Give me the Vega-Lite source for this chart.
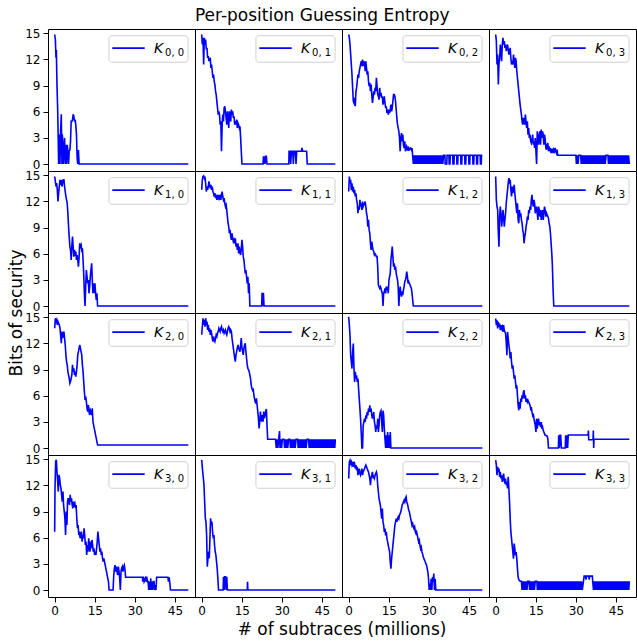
{
"$schema":"https://vega.github.io/schema/vega-lite/v6.json",
"padding":{"left":7,"top":7,"right":0,"bottom":0},
"bounds":"flush",
"title":{"text":"Per-position Guessing Entropy","fontSize":17,"fontWeight":"normal","color":"black","font":"DejaVu Sans","anchor":"middle","offset":2},
"data":{"values":[
{"r":0,"c":0,"x":0,"y":14.87},{"r":0,"c":0,"x":0.25,"y":14.3},{"r":0,"c":0,"x":0.49,"y":12.2},{"r":0,"c":0,"x":0.62,"y":13.1},{"r":0,"c":0,"x":0.86,"y":9.1},{"r":0,"c":0,"x":1.11,"y":6.4},{"r":0,"c":0,"x":1.23,"y":4.5},{"r":0,"c":0,"x":1.48,"y":0},{"r":0,"c":0,"x":1.73,"y":3.4},{"r":0,"c":0,"x":1.98,"y":0},{"r":0,"c":0,"x":2.22,"y":3.8},{"r":0,"c":0,"x":2.47,"y":5.7},{"r":0,"c":0,"x":2.72,"y":0},{"r":0,"c":0,"x":2.84,"y":3.4},{"r":0,"c":0,"x":3.09,"y":2.2},{"r":0,"c":0,"x":3.21,"y":0},{"r":0,"c":0,"x":3.46,"y":1.5},{"r":0,"c":0,"x":3.7,"y":3.0},{"r":0,"c":0,"x":3.95,"y":0},{"r":0,"c":0,"x":4.2,"y":2.2},{"r":0,"c":0,"x":4.44,"y":0},{"r":0,"c":0,"x":4.69,"y":2.2},{"r":0,"c":0,"x":4.94,"y":1.5},{"r":0,"c":0,"x":5.19,"y":0},{"r":0,"c":0,"x":5.43,"y":1.5},{"r":0,"c":0,"x":5.68,"y":1.6},{"r":0,"c":0,"x":5.93,"y":2.6},{"r":0,"c":0,"x":6.17,"y":4.9},{"r":0,"c":0,"x":6.42,"y":4.9},{"r":0,"c":0,"x":6.67,"y":5.1},{"r":0,"c":0,"x":6.91,"y":5.7},{"r":0,"c":0,"x":7.16,"y":5.5},{"r":0,"c":0,"x":7.41,"y":4.9},{"r":0,"c":0,"x":7.65,"y":5.1},{"r":0,"c":0,"x":7.9,"y":4.5},{"r":0,"c":0,"x":8.15,"y":3.4},{"r":0,"c":0,"x":8.4,"y":0.7},{"r":0,"c":0,"x":8.64,"y":0},{"r":0,"c":0,"x":8.89,"y":1.6},{"r":0,"c":0,"x":9.14,"y":0},{"r":0,"c":0,"x":50,"y":0},
{"r":0,"c":1,"x":0,"y":14.87},{"r":0,"c":1,"x":0.25,"y":13.72},{"r":0,"c":1,"x":0.49,"y":14.48},{"r":0,"c":1,"x":0.74,"y":11.42},{"r":0,"c":1,"x":0.99,"y":14.48},{"r":0,"c":1,"x":1.23,"y":13.72},{"r":0,"c":1,"x":1.48,"y":14.3},{"r":0,"c":1,"x":1.73,"y":13.14},{"r":0,"c":1,"x":1.98,"y":13.33},{"r":0,"c":1,"x":2.22,"y":12.18},{"r":0,"c":1,"x":2.47,"y":12.38},{"r":0,"c":1,"x":2.72,"y":11.8},{"r":0,"c":1,"x":2.96,"y":11.99},{"r":0,"c":1,"x":3.21,"y":12.18},{"r":0,"c":1,"x":3.46,"y":11.03},{"r":0,"c":1,"x":3.7,"y":11.42},{"r":0,"c":1,"x":3.95,"y":10.65},{"r":0,"c":1,"x":4.2,"y":9.89},{"r":0,"c":1,"x":4.44,"y":10.27},{"r":0,"c":1,"x":4.69,"y":9.5},{"r":0,"c":1,"x":4.94,"y":9.12},{"r":0,"c":1,"x":5.19,"y":8.35},{"r":0,"c":1,"x":5.43,"y":7.97},{"r":0,"c":1,"x":5.68,"y":7.2},{"r":0,"c":1,"x":5.93,"y":6.44},{"r":0,"c":1,"x":6.17,"y":5.67},{"r":0,"c":1,"x":6.42,"y":6.05},{"r":0,"c":1,"x":6.67,"y":5.67},{"r":0,"c":1,"x":6.91,"y":4.52},{"r":0,"c":1,"x":7.16,"y":4.9},{"r":0,"c":1,"x":7.41,"y":1.46},{"r":0,"c":1,"x":7.65,"y":4.52},{"r":0,"c":1,"x":7.9,"y":5.67},{"r":0,"c":1,"x":8.15,"y":4.9},{"r":0,"c":1,"x":8.4,"y":6.44},{"r":0,"c":1,"x":8.64,"y":6.63},{"r":0,"c":1,"x":8.89,"y":6.05},{"r":0,"c":1,"x":9.14,"y":5.29},{"r":0,"c":1,"x":9.38,"y":4.52},{"r":0,"c":1,"x":9.63,"y":6.05},{"r":0,"c":1,"x":9.88,"y":5.29},{"r":0,"c":1,"x":10.12,"y":4.14},{"r":0,"c":1,"x":10.37,"y":6.05},{"r":0,"c":1,"x":10.62,"y":5.67},{"r":0,"c":1,"x":10.86,"y":4.9},{"r":0,"c":1,"x":11.11,"y":6.25},{"r":0,"c":1,"x":11.36,"y":5.67},{"r":0,"c":1,"x":11.6,"y":6.05},{"r":0,"c":1,"x":11.85,"y":5.29},{"r":0,"c":1,"x":12.1,"y":5.48},{"r":0,"c":1,"x":12.35,"y":4.52},{"r":0,"c":1,"x":12.59,"y":4.9},{"r":0,"c":1,"x":12.84,"y":4.52},{"r":0,"c":1,"x":13.09,"y":5.1},{"r":0,"c":1,"x":13.33,"y":4.14},{"r":0,"c":1,"x":13.58,"y":4.71},{"r":0,"c":1,"x":13.83,"y":4.52},{"r":0,"c":1,"x":14.07,"y":4.14},{"r":0,"c":1,"x":14.32,"y":4.33},{"r":0,"c":1,"x":14.57,"y":3.03},{"r":0,"c":1,"x":14.81,"y":1.53},{"r":0,"c":1,"x":15.06,"y":0},{"r":0,"c":1,"x":22.96,"y":0},{"r":0,"c":1,"x":23.1,"y":0.88},{"r":0,"c":1,"x":23.2,"y":0},{"r":0,"c":1,"x":23.46,"y":0.88},{"r":0,"c":1,"x":23.7,"y":0},{"r":0,"c":1,"x":23.95,"y":0.88},{"r":0,"c":1,"x":24.2,"y":0.88},{"r":0,"c":1,"x":24.44,"y":0},{"r":0,"c":1,"x":32.6,"y":0},{"r":0,"c":1,"x":32.7,"y":1.46},{"r":0,"c":1,"x":33.1,"y":1.46},{"r":0,"c":1,"x":33.3,"y":0},{"r":0,"c":1,"x":33.58,"y":1.46},{"r":0,"c":1,"x":34.07,"y":1.46},{"r":0,"c":1,"x":34.3,"y":0},{"r":0,"c":1,"x":34.57,"y":1.46},{"r":0,"c":1,"x":35.06,"y":1.46},{"r":0,"c":1,"x":35.3,"y":0},{"r":0,"c":1,"x":35.56,"y":1.46},{"r":0,"c":1,"x":37.3,"y":1.46},{"r":0,"c":1,"x":37.5,"y":1.84},{"r":0,"c":1,"x":37.8,"y":1.46},{"r":0,"c":1,"x":39.26,"y":1.46},{"r":0,"c":1,"x":39.5,"y":0},{"r":0,"c":1,"x":50,"y":0},
{"r":0,"c":2,"x":0,"y":14.87},{"r":0,"c":2,"x":0.25,"y":14.48},{"r":0,"c":2,"x":0.49,"y":13.72},{"r":0,"c":2,"x":0.74,"y":12.57},{"r":0,"c":2,"x":0.99,"y":11.42},{"r":0,"c":2,"x":1.23,"y":10.27},{"r":0,"c":2,"x":1.48,"y":8.74},{"r":0,"c":2,"x":1.73,"y":7.2},{"r":0,"c":2,"x":1.98,"y":7.01},{"r":0,"c":2,"x":2.22,"y":7.59},{"r":0,"c":2,"x":2.47,"y":6.63},{"r":0,"c":2,"x":2.72,"y":8.35},{"r":0,"c":2,"x":2.96,"y":8.74},{"r":0,"c":2,"x":3.21,"y":9.5},{"r":0,"c":2,"x":3.46,"y":10.27},{"r":0,"c":2,"x":3.7,"y":9.89},{"r":0,"c":2,"x":3.95,"y":10.65},{"r":0,"c":2,"x":4.2,"y":11.03},{"r":0,"c":2,"x":4.44,"y":11.42},{"r":0,"c":2,"x":4.69,"y":11.8},{"r":0,"c":2,"x":4.94,"y":11.23},{"r":0,"c":2,"x":5.19,"y":11.99},{"r":0,"c":2,"x":5.43,"y":11.23},{"r":0,"c":2,"x":5.68,"y":11.8},{"r":0,"c":2,"x":5.93,"y":11.6},{"r":0,"c":2,"x":6.17,"y":10.65},{"r":0,"c":2,"x":6.42,"y":11.8},{"r":0,"c":2,"x":6.67,"y":11.03},{"r":0,"c":2,"x":6.91,"y":10.27},{"r":0,"c":2,"x":7.16,"y":10.65},{"r":0,"c":2,"x":7.41,"y":9.5},{"r":0,"c":2,"x":7.65,"y":8.93},{"r":0,"c":2,"x":7.9,"y":9.31},{"r":0,"c":2,"x":8.15,"y":8.35},{"r":0,"c":2,"x":8.4,"y":9.12},{"r":0,"c":2,"x":8.64,"y":7.97},{"r":0,"c":2,"x":8.89,"y":7.01},{"r":0,"c":2,"x":9.14,"y":7.59},{"r":0,"c":2,"x":9.38,"y":8.35},{"r":0,"c":2,"x":9.63,"y":7.97},{"r":0,"c":2,"x":9.88,"y":8.74},{"r":0,"c":2,"x":10.12,"y":8.35},{"r":0,"c":2,"x":10.37,"y":9.89},{"r":0,"c":2,"x":10.62,"y":8.93},{"r":0,"c":2,"x":10.86,"y":7.97},{"r":0,"c":2,"x":11.11,"y":7.78},{"r":0,"c":2,"x":11.36,"y":7.39},{"r":0,"c":2,"x":11.6,"y":8.74},{"r":0,"c":2,"x":11.85,"y":7.78},{"r":0,"c":2,"x":12.1,"y":8.16},{"r":0,"c":2,"x":12.35,"y":7.59},{"r":0,"c":2,"x":12.59,"y":7.78},{"r":0,"c":2,"x":12.84,"y":6.82},{"r":0,"c":2,"x":13.09,"y":7.2},{"r":0,"c":2,"x":13.33,"y":7.78},{"r":0,"c":2,"x":13.58,"y":7.01},{"r":0,"c":2,"x":13.83,"y":6.44},{"r":0,"c":2,"x":14.07,"y":6.63},{"r":0,"c":2,"x":14.32,"y":5.86},{"r":0,"c":2,"x":14.57,"y":6.25},{"r":0,"c":2,"x":14.81,"y":5.67},{"r":0,"c":2,"x":15.06,"y":6.25},{"r":0,"c":2,"x":15.31,"y":5.86},{"r":0,"c":2,"x":15.56,"y":6.25},{"r":0,"c":2,"x":15.8,"y":6.82},{"r":0,"c":2,"x":16.05,"y":6.05},{"r":0,"c":2,"x":16.3,"y":6.44},{"r":0,"c":2,"x":16.54,"y":7.2},{"r":0,"c":2,"x":16.79,"y":7.97},{"r":0,"c":2,"x":17.04,"y":7.97},{"r":0,"c":2,"x":17.28,"y":7.78},{"r":0,"c":2,"x":17.53,"y":7.2},{"r":0,"c":2,"x":17.78,"y":6.25},{"r":0,"c":2,"x":18.02,"y":5.29},{"r":0,"c":2,"x":18.27,"y":4.52},{"r":0,"c":2,"x":18.52,"y":4.14},{"r":0,"c":2,"x":18.77,"y":3.75},{"r":0,"c":2,"x":19.01,"y":2.99},{"r":0,"c":2,"x":19.26,"y":1.46},{"r":0,"c":2,"x":19.51,"y":2.99},{"r":0,"c":2,"x":19.75,"y":3.56},{"r":0,"c":2,"x":20.0,"y":2.6},{"r":0,"c":2,"x":20.25,"y":3.37},{"r":0,"c":2,"x":20.49,"y":2.22},{"r":0,"c":2,"x":20.74,"y":1.84},{"r":0,"c":2,"x":20.99,"y":2.6},{"r":0,"c":2,"x":21.23,"y":1.46},{"r":0,"c":2,"x":21.48,"y":1.65},{"r":0,"c":2,"x":21.73,"y":2.03},{"r":0,"c":2,"x":21.98,"y":1.84},{"r":0,"c":2,"x":22.22,"y":1.53},{"r":0,"c":2,"x":22.47,"y":1.84},{"r":0,"c":2,"x":22.72,"y":1.65},{"r":0,"c":2,"x":22.96,"y":1.76},{"r":0,"c":2,"x":23.21,"y":1.84},{"r":0,"c":2,"x":23.46,"y":1.65},{"r":0,"c":2,"x":23.7,"y":1.84},{"r":0,"c":2,"x":23.95,"y":0.92},{"r":0,"c":2,"x":24.2,"y":0},{"r":0,"c":2,"x":24.45,"y":1},{"r":0,"c":2,"x":24.7,"y":0},{"r":0,"c":2,"x":24.95,"y":1},{"r":0,"c":2,"x":25.2,"y":0},{"r":0,"c":2,"x":25.45,"y":1},{"r":0,"c":2,"x":25.7,"y":0},{"r":0,"c":2,"x":25.95,"y":1},{"r":0,"c":2,"x":26.2,"y":0},{"r":0,"c":2,"x":26.45,"y":1},{"r":0,"c":2,"x":26.7,"y":0},{"r":0,"c":2,"x":26.95,"y":1},{"r":0,"c":2,"x":27.2,"y":0},{"r":0,"c":2,"x":27.45,"y":1},{"r":0,"c":2,"x":27.7,"y":0},{"r":0,"c":2,"x":27.95,"y":1},{"r":0,"c":2,"x":28.2,"y":0},{"r":0,"c":2,"x":28.45,"y":1},{"r":0,"c":2,"x":28.7,"y":0},{"r":0,"c":2,"x":28.95,"y":1},{"r":0,"c":2,"x":29.2,"y":0},{"r":0,"c":2,"x":29.45,"y":1},{"r":0,"c":2,"x":29.7,"y":0},{"r":0,"c":2,"x":29.95,"y":1},{"r":0,"c":2,"x":30.2,"y":0},{"r":0,"c":2,"x":30.45,"y":1},{"r":0,"c":2,"x":30.7,"y":0},{"r":0,"c":2,"x":30.95,"y":1},{"r":0,"c":2,"x":31.2,"y":0},{"r":0,"c":2,"x":31.45,"y":1},{"r":0,"c":2,"x":31.7,"y":0},{"r":0,"c":2,"x":31.95,"y":1},{"r":0,"c":2,"x":32.2,"y":0},{"r":0,"c":2,"x":32.45,"y":1},{"r":0,"c":2,"x":32.7,"y":0},{"r":0,"c":2,"x":32.95,"y":1},{"r":0,"c":2,"x":33.2,"y":0},{"r":0,"c":2,"x":33.45,"y":1},{"r":0,"c":2,"x":33.7,"y":0},{"r":0,"c":2,"x":33.95,"y":1},{"r":0,"c":2,"x":34.2,"y":0},{"r":0,"c":2,"x":34.45,"y":1},{"r":0,"c":2,"x":34.7,"y":0},{"r":0,"c":2,"x":34.95,"y":1},{"r":0,"c":2,"x":35.2,"y":0},{"r":0,"c":2,"x":35.5,"y":1},{"r":0,"c":2,"x":36.0,"y":1},{"r":0,"c":2,"x":36.1,"y":0},{"r":0,"c":2,"x":36.7,"y":0},{"r":0,"c":2,"x":36.8,"y":1},{"r":0,"c":2,"x":37.5,"y":1},{"r":0,"c":2,"x":37.6,"y":0},{"r":0,"c":2,"x":37.9,"y":0},{"r":0,"c":2,"x":38.0,"y":1},{"r":0,"c":2,"x":38.9,"y":1},{"r":0,"c":2,"x":39.0,"y":0},{"r":0,"c":2,"x":39.4,"y":0},{"r":0,"c":2,"x":39.5,"y":1},{"r":0,"c":2,"x":40.4,"y":1},{"r":0,"c":2,"x":40.5,"y":0},{"r":0,"c":2,"x":40.8,"y":0},{"r":0,"c":2,"x":40.9,"y":1},{"r":0,"c":2,"x":41.9,"y":1},{"r":0,"c":2,"x":42.0,"y":0},{"r":0,"c":2,"x":42.3,"y":0},{"r":0,"c":2,"x":42.4,"y":1},{"r":0,"c":2,"x":43.4,"y":1},{"r":0,"c":2,"x":43.5,"y":0},{"r":0,"c":2,"x":43.8,"y":0},{"r":0,"c":2,"x":43.9,"y":1},{"r":0,"c":2,"x":44.9,"y":1},{"r":0,"c":2,"x":45.0,"y":0},{"r":0,"c":2,"x":45.3,"y":0},{"r":0,"c":2,"x":45.4,"y":1},{"r":0,"c":2,"x":46.4,"y":1},{"r":0,"c":2,"x":46.5,"y":0},{"r":0,"c":2,"x":46.8,"y":0},{"r":0,"c":2,"x":46.9,"y":1},{"r":0,"c":2,"x":47.8,"y":1},{"r":0,"c":2,"x":47.9,"y":0},{"r":0,"c":2,"x":48.2,"y":0},{"r":0,"c":2,"x":48.3,"y":1},{"r":0,"c":2,"x":49.2,"y":1},{"r":0,"c":2,"x":49.3,"y":0},{"r":0,"c":2,"x":49.6,"y":0},{"r":0,"c":2,"x":49.7,"y":1},{"r":0,"c":2,"x":50,"y":1},
{"r":0,"c":3,"x":0,"y":14.87},{"r":0,"c":3,"x":0.25,"y":14.1},{"r":0,"c":3,"x":0.49,"y":11.42},{"r":0,"c":3,"x":0.74,"y":12.57},{"r":0,"c":3,"x":0.99,"y":9.12},{"r":0,"c":3,"x":1.23,"y":11.42},{"r":0,"c":3,"x":1.48,"y":12.18},{"r":0,"c":3,"x":1.73,"y":13.72},{"r":0,"c":3,"x":1.98,"y":12.95},{"r":0,"c":3,"x":2.22,"y":11.8},{"r":0,"c":3,"x":2.47,"y":13.72},{"r":0,"c":3,"x":2.72,"y":14.48},{"r":0,"c":3,"x":2.96,"y":13.72},{"r":0,"c":3,"x":3.21,"y":14.1},{"r":0,"c":3,"x":3.46,"y":13.33},{"r":0,"c":3,"x":3.7,"y":13.72},{"r":0,"c":3,"x":3.95,"y":12.95},{"r":0,"c":3,"x":4.2,"y":13.33},{"r":0,"c":3,"x":4.44,"y":13.72},{"r":0,"c":3,"x":4.69,"y":13.14},{"r":0,"c":3,"x":4.94,"y":12.57},{"r":0,"c":3,"x":5.19,"y":12.95},{"r":0,"c":3,"x":5.43,"y":13.33},{"r":0,"c":3,"x":5.68,"y":12.18},{"r":0,"c":3,"x":5.93,"y":11.42},{"r":0,"c":3,"x":6.17,"y":11.8},{"r":0,"c":3,"x":6.42,"y":11.42},{"r":0,"c":3,"x":6.67,"y":12.57},{"r":0,"c":3,"x":6.91,"y":11.8},{"r":0,"c":3,"x":7.16,"y":11.03},{"r":0,"c":3,"x":7.41,"y":12.18},{"r":0,"c":3,"x":7.65,"y":11.8},{"r":0,"c":3,"x":7.9,"y":10.65},{"r":0,"c":3,"x":8.15,"y":9.89},{"r":0,"c":3,"x":8.4,"y":9.12},{"r":0,"c":3,"x":8.64,"y":8.35},{"r":0,"c":3,"x":8.89,"y":7.59},{"r":0,"c":3,"x":9.14,"y":6.82},{"r":0,"c":3,"x":9.38,"y":6.25},{"r":0,"c":3,"x":9.63,"y":5.67},{"r":0,"c":3,"x":9.88,"y":4.9},{"r":0,"c":3,"x":10.12,"y":4.52},{"r":0,"c":3,"x":10.37,"y":5.29},{"r":0,"c":3,"x":10.62,"y":4.9},{"r":0,"c":3,"x":10.86,"y":4.52},{"r":0,"c":3,"x":11.11,"y":5.67},{"r":0,"c":3,"x":11.36,"y":4.9},{"r":0,"c":3,"x":11.6,"y":4.14},{"r":0,"c":3,"x":11.85,"y":4.9},{"r":0,"c":3,"x":12.1,"y":3.37},{"r":0,"c":3,"x":12.35,"y":4.14},{"r":0,"c":3,"x":12.59,"y":2.99},{"r":0,"c":3,"x":12.84,"y":3.37},{"r":0,"c":3,"x":13.09,"y":2.6},{"r":0,"c":3,"x":13.33,"y":2.41},{"r":0,"c":3,"x":13.58,"y":2.8},{"r":0,"c":3,"x":13.83,"y":3.37},{"r":0,"c":3,"x":14.07,"y":2.22},{"r":0,"c":3,"x":14.32,"y":2.6},{"r":0,"c":3,"x":14.57,"y":1.84},{"r":0,"c":3,"x":14.81,"y":2.99},{"r":0,"c":3,"x":15.06,"y":1.46},{"r":0,"c":3,"x":15.31,"y":0},{"r":0,"c":3,"x":15.56,"y":3.75},{"r":0,"c":3,"x":15.8,"y":3.37},{"r":0,"c":3,"x":16.05,"y":2.22},{"r":0,"c":3,"x":16.3,"y":2.99},{"r":0,"c":3,"x":16.54,"y":3.75},{"r":0,"c":3,"x":16.79,"y":2.22},{"r":0,"c":3,"x":17.04,"y":3.95},{"r":0,"c":3,"x":17.28,"y":2.99},{"r":0,"c":3,"x":17.53,"y":3.75},{"r":0,"c":3,"x":17.78,"y":3.37},{"r":0,"c":3,"x":18.02,"y":2.22},{"r":0,"c":3,"x":18.27,"y":3.37},{"r":0,"c":3,"x":18.52,"y":2.8},{"r":0,"c":3,"x":18.77,"y":1.84},{"r":0,"c":3,"x":19.01,"y":1.65},{"r":0,"c":3,"x":19.26,"y":2.22},{"r":0,"c":3,"x":19.51,"y":2.41},{"r":0,"c":3,"x":19.75,"y":1.46},{"r":0,"c":3,"x":20.0,"y":2.03},{"r":0,"c":3,"x":20.25,"y":1.46},{"r":0,"c":3,"x":20.49,"y":1.84},{"r":0,"c":3,"x":20.74,"y":1.26},{"r":0,"c":3,"x":20.99,"y":1.53},{"r":0,"c":3,"x":21.23,"y":1.76},{"r":0,"c":3,"x":21.48,"y":1.26},{"r":0,"c":3,"x":21.73,"y":1.65},{"r":0,"c":3,"x":21.98,"y":1.46},{"r":0,"c":3,"x":22.22,"y":1.84},{"r":0,"c":3,"x":22.47,"y":1.46},{"r":0,"c":3,"x":22.72,"y":1.26},{"r":0,"c":3,"x":22.96,"y":1.65},{"r":0,"c":3,"x":23.21,"y":1},{"r":0,"c":3,"x":30.0,"y":1},{"r":0,"c":3,"x":30.2,"y":0},{"r":0,"c":3,"x":30.5,"y":1},{"r":0,"c":3,"x":30.8,"y":0},{"r":0,"c":3,"x":31.1,"y":1},{"r":0,"c":3,"x":31.8,"y":1},{"r":0,"c":3,"x":32.0,"y":0},{"r":0,"c":3,"x":32.3,"y":1},{"r":0,"c":3,"x":32.6,"y":0},{"r":0,"c":3,"x":32.9,"y":1},{"r":0,"c":3,"x":33.2,"y":0},{"r":0,"c":3,"x":33.5,"y":1},{"r":0,"c":3,"x":33.8,"y":0},{"r":0,"c":3,"x":34.1,"y":1},{"r":0,"c":3,"x":34.4,"y":0},{"r":0,"c":3,"x":34.7,"y":1},{"r":0,"c":3,"x":35.0,"y":0},{"r":0,"c":3,"x":35.3,"y":1},{"r":0,"c":3,"x":35.6,"y":0},{"r":0,"c":3,"x":35.9,"y":1},{"r":0,"c":3,"x":36.2,"y":0},{"r":0,"c":3,"x":36.5,"y":1},{"r":0,"c":3,"x":36.8,"y":0},{"r":0,"c":3,"x":37.1,"y":1},{"r":0,"c":3,"x":37.4,"y":0},{"r":0,"c":3,"x":37.7,"y":1},{"r":0,"c":3,"x":38.0,"y":0},{"r":0,"c":3,"x":38.3,"y":1},{"r":0,"c":3,"x":38.6,"y":0},{"r":0,"c":3,"x":38.9,"y":1},{"r":0,"c":3,"x":39.2,"y":0},{"r":0,"c":3,"x":39.5,"y":1},{"r":0,"c":3,"x":39.8,"y":0},{"r":0,"c":3,"x":40.1,"y":1},{"r":0,"c":3,"x":40.4,"y":0},{"r":0,"c":3,"x":40.7,"y":1},{"r":0,"c":3,"x":41.0,"y":0},{"r":0,"c":3,"x":41.3,"y":1},{"r":0,"c":3,"x":42.0,"y":1},{"r":0,"c":3,"x":42.2,"y":0},{"r":0,"c":3,"x":42.5,"y":1},{"r":0,"c":3,"x":42.8,"y":0},{"r":0,"c":3,"x":43.1,"y":1},{"r":0,"c":3,"x":43.4,"y":0},{"r":0,"c":3,"x":43.7,"y":1},{"r":0,"c":3,"x":44.0,"y":0},{"r":0,"c":3,"x":44.3,"y":1},{"r":0,"c":3,"x":44.6,"y":0},{"r":0,"c":3,"x":44.9,"y":1},{"r":0,"c":3,"x":45.2,"y":0},{"r":0,"c":3,"x":45.5,"y":1},{"r":0,"c":3,"x":45.8,"y":0},{"r":0,"c":3,"x":46.1,"y":1},{"r":0,"c":3,"x":46.4,"y":0},{"r":0,"c":3,"x":46.7,"y":1},{"r":0,"c":3,"x":47.0,"y":0},{"r":0,"c":3,"x":47.3,"y":1},{"r":0,"c":3,"x":47.6,"y":0},{"r":0,"c":3,"x":47.9,"y":1},{"r":0,"c":3,"x":48.2,"y":0},{"r":0,"c":3,"x":48.5,"y":1},{"r":0,"c":3,"x":48.8,"y":0},{"r":0,"c":3,"x":49.1,"y":1},{"r":0,"c":3,"x":49.4,"y":0},{"r":0,"c":3,"x":49.7,"y":1},{"r":0,"c":3,"x":50,"y":0},
{"r":1,"c":0,"x":0,"y":14.87},{"r":1,"c":0,"x":0.25,"y":14.3},{"r":1,"c":0,"x":0.49,"y":13.72},{"r":1,"c":0,"x":0.74,"y":14.1},{"r":1,"c":0,"x":0.99,"y":13.33},{"r":1,"c":0,"x":1.23,"y":12.0},{"r":1,"c":0,"x":1.48,"y":12.95},{"r":1,"c":0,"x":1.73,"y":13.72},{"r":1,"c":0,"x":1.98,"y":14.48},{"r":1,"c":0,"x":2.22,"y":13.91},{"r":1,"c":0,"x":2.47,"y":14.48},{"r":1,"c":0,"x":2.72,"y":13.72},{"r":1,"c":0,"x":2.96,"y":14.1},{"r":1,"c":0,"x":3.21,"y":14.48},{"r":1,"c":0,"x":3.46,"y":14.48},{"r":1,"c":0,"x":3.7,"y":13.72},{"r":1,"c":0,"x":3.95,"y":13.14},{"r":1,"c":0,"x":4.2,"y":12.57},{"r":1,"c":0,"x":4.44,"y":12.18},{"r":1,"c":0,"x":4.69,"y":11.8},{"r":1,"c":0,"x":4.94,"y":10.65},{"r":1,"c":0,"x":5.19,"y":9.12},{"r":1,"c":0,"x":5.43,"y":7.97},{"r":1,"c":0,"x":5.68,"y":6.82},{"r":1,"c":0,"x":5.93,"y":6.44},{"r":1,"c":0,"x":6.17,"y":5.29},{"r":1,"c":0,"x":6.42,"y":6.82},{"r":1,"c":0,"x":6.67,"y":7.97},{"r":1,"c":0,"x":6.91,"y":6.82},{"r":1,"c":0,"x":7.16,"y":5.67},{"r":1,"c":0,"x":7.41,"y":6.44},{"r":1,"c":0,"x":7.65,"y":6.05},{"r":1,"c":0,"x":7.9,"y":6.25},{"r":1,"c":0,"x":8.15,"y":5.29},{"r":1,"c":0,"x":8.4,"y":5.86},{"r":1,"c":0,"x":8.64,"y":5.29},{"r":1,"c":0,"x":8.89,"y":4.52},{"r":1,"c":0,"x":9.14,"y":5.67},{"r":1,"c":0,"x":9.38,"y":7.2},{"r":1,"c":0,"x":9.63,"y":6.82},{"r":1,"c":0,"x":9.88,"y":7.01},{"r":1,"c":0,"x":10.12,"y":6.44},{"r":1,"c":0,"x":10.37,"y":6.63},{"r":1,"c":0,"x":10.62,"y":5.29},{"r":1,"c":0,"x":10.86,"y":3.75},{"r":1,"c":0,"x":11.11,"y":1.46},{"r":1,"c":0,"x":11.36,"y":0},{"r":1,"c":0,"x":11.6,"y":2.22},{"r":1,"c":0,"x":11.85,"y":4.14},{"r":1,"c":0,"x":12.1,"y":3.37},{"r":1,"c":0,"x":12.35,"y":2.6},{"r":1,"c":0,"x":12.59,"y":2.99},{"r":1,"c":0,"x":12.84,"y":1.46},{"r":1,"c":0,"x":13.09,"y":2.22},{"r":1,"c":0,"x":13.33,"y":3.37},{"r":1,"c":0,"x":13.58,"y":4.14},{"r":1,"c":0,"x":13.83,"y":4.9},{"r":1,"c":0,"x":14.07,"y":2.99},{"r":1,"c":0,"x":14.32,"y":1.46},{"r":1,"c":0,"x":14.57,"y":2.6},{"r":1,"c":0,"x":14.81,"y":1.46},{"r":1,"c":0,"x":15.06,"y":2.6},{"r":1,"c":0,"x":15.31,"y":1.46},{"r":1,"c":0,"x":15.56,"y":0.69},{"r":1,"c":0,"x":15.8,"y":1.46},{"r":1,"c":0,"x":16.05,"y":0},{"r":1,"c":0,"x":50,"y":0},
{"r":1,"c":1,"x":0,"y":13.33},{"r":1,"c":1,"x":0.25,"y":14.5},{"r":1,"c":1,"x":0.49,"y":14.87},{"r":1,"c":1,"x":0.74,"y":14.94},{"r":1,"c":1,"x":0.99,"y":14.67},{"r":1,"c":1,"x":1.23,"y":14.87},{"r":1,"c":1,"x":1.48,"y":14.1},{"r":1,"c":1,"x":1.73,"y":13.14},{"r":1,"c":1,"x":1.98,"y":13.72},{"r":1,"c":1,"x":2.22,"y":13.33},{"r":1,"c":1,"x":2.47,"y":13.72},{"r":1,"c":1,"x":2.72,"y":14.3},{"r":1,"c":1,"x":2.96,"y":13.91},{"r":1,"c":1,"x":3.21,"y":13.52},{"r":1,"c":1,"x":3.46,"y":13.91},{"r":1,"c":1,"x":3.7,"y":13.33},{"r":1,"c":1,"x":3.95,"y":13.72},{"r":1,"c":1,"x":4.2,"y":13.14},{"r":1,"c":1,"x":4.44,"y":12.95},{"r":1,"c":1,"x":4.69,"y":12.57},{"r":1,"c":1,"x":4.94,"y":12.95},{"r":1,"c":1,"x":5.19,"y":12.38},{"r":1,"c":1,"x":5.43,"y":12.76},{"r":1,"c":1,"x":5.68,"y":12.18},{"r":1,"c":1,"x":5.93,"y":12.57},{"r":1,"c":1,"x":6.17,"y":12.38},{"r":1,"c":1,"x":6.42,"y":12.76},{"r":1,"c":1,"x":6.67,"y":12.38},{"r":1,"c":1,"x":6.91,"y":12.57},{"r":1,"c":1,"x":7.16,"y":12.18},{"r":1,"c":1,"x":7.41,"y":12.76},{"r":1,"c":1,"x":7.65,"y":13.14},{"r":1,"c":1,"x":7.9,"y":12.57},{"r":1,"c":1,"x":8.15,"y":12.18},{"r":1,"c":1,"x":8.4,"y":12.38},{"r":1,"c":1,"x":8.64,"y":11.8},{"r":1,"c":1,"x":8.89,"y":11.42},{"r":1,"c":1,"x":9.14,"y":11.61},{"r":1,"c":1,"x":9.38,"y":11.03},{"r":1,"c":1,"x":9.63,"y":10.27},{"r":1,"c":1,"x":9.88,"y":9.5},{"r":1,"c":1,"x":10.12,"y":9.12},{"r":1,"c":1,"x":10.37,"y":8.35},{"r":1,"c":1,"x":10.62,"y":8.74},{"r":1,"c":1,"x":10.86,"y":7.97},{"r":1,"c":1,"x":11.11,"y":7.59},{"r":1,"c":1,"x":11.36,"y":8.35},{"r":1,"c":1,"x":11.6,"y":7.78},{"r":1,"c":1,"x":11.85,"y":7.39},{"r":1,"c":1,"x":12.1,"y":7.59},{"r":1,"c":1,"x":12.35,"y":7.2},{"r":1,"c":1,"x":12.59,"y":7.78},{"r":1,"c":1,"x":12.84,"y":6.82},{"r":1,"c":1,"x":13.09,"y":7.2},{"r":1,"c":1,"x":13.33,"y":6.44},{"r":1,"c":1,"x":13.58,"y":7.2},{"r":1,"c":1,"x":13.83,"y":6.05},{"r":1,"c":1,"x":14.07,"y":6.82},{"r":1,"c":1,"x":14.32,"y":6.25},{"r":1,"c":1,"x":14.57,"y":5.86},{"r":1,"c":1,"x":14.81,"y":6.44},{"r":1,"c":1,"x":15.06,"y":7.59},{"r":1,"c":1,"x":15.31,"y":6.82},{"r":1,"c":1,"x":15.56,"y":5.67},{"r":1,"c":1,"x":15.8,"y":5.29},{"r":1,"c":1,"x":16.05,"y":4.52},{"r":1,"c":1,"x":16.3,"y":3.75},{"r":1,"c":1,"x":16.54,"y":4.14},{"r":1,"c":1,"x":16.79,"y":3.37},{"r":1,"c":1,"x":17.04,"y":2.6},{"r":1,"c":1,"x":17.28,"y":3.37},{"r":1,"c":1,"x":17.53,"y":1.46},{"r":1,"c":1,"x":17.78,"y":2.6},{"r":1,"c":1,"x":18.02,"y":0},{"r":1,"c":1,"x":22.47,"y":0},{"r":1,"c":1,"x":22.59,"y":1.53},{"r":1,"c":1,"x":22.84,"y":0},{"r":1,"c":1,"x":23.09,"y":1.53},{"r":1,"c":1,"x":23.33,"y":0},{"r":1,"c":1,"x":50,"y":0},
{"r":1,"c":2,"x":0,"y":13.14},{"r":1,"c":2,"x":0.25,"y":14.87},{"r":1,"c":2,"x":0.49,"y":14.3},{"r":1,"c":2,"x":0.74,"y":14.48},{"r":1,"c":2,"x":0.99,"y":13.33},{"r":1,"c":2,"x":1.23,"y":14.1},{"r":1,"c":2,"x":1.48,"y":13.14},{"r":1,"c":2,"x":1.73,"y":13.72},{"r":1,"c":2,"x":1.98,"y":12.95},{"r":1,"c":2,"x":2.22,"y":13.33},{"r":1,"c":2,"x":2.47,"y":12.57},{"r":1,"c":2,"x":2.72,"y":12.95},{"r":1,"c":2,"x":2.96,"y":12.18},{"r":1,"c":2,"x":3.21,"y":11.8},{"r":1,"c":2,"x":3.46,"y":10.65},{"r":1,"c":2,"x":3.7,"y":11.42},{"r":1,"c":2,"x":3.95,"y":11.03},{"r":1,"c":2,"x":4.2,"y":12.18},{"r":1,"c":2,"x":4.44,"y":11.42},{"r":1,"c":2,"x":4.69,"y":11.8},{"r":1,"c":2,"x":4.94,"y":11.03},{"r":1,"c":2,"x":5.19,"y":11.99},{"r":1,"c":2,"x":5.43,"y":11.42},{"r":1,"c":2,"x":5.68,"y":11.61},{"r":1,"c":2,"x":5.93,"y":11.8},{"r":1,"c":2,"x":6.17,"y":11.99},{"r":1,"c":2,"x":6.42,"y":11.42},{"r":1,"c":2,"x":6.67,"y":10.65},{"r":1,"c":2,"x":6.91,"y":10.27},{"r":1,"c":2,"x":7.16,"y":9.12},{"r":1,"c":2,"x":7.41,"y":9.89},{"r":1,"c":2,"x":7.65,"y":8.74},{"r":1,"c":2,"x":7.9,"y":8.35},{"r":1,"c":2,"x":8.15,"y":7.2},{"r":1,"c":2,"x":8.4,"y":6.44},{"r":1,"c":2,"x":8.64,"y":7.39},{"r":1,"c":2,"x":8.89,"y":6.82},{"r":1,"c":2,"x":9.14,"y":6.44},{"r":1,"c":2,"x":9.38,"y":6.25},{"r":1,"c":2,"x":9.63,"y":5.86},{"r":1,"c":2,"x":9.88,"y":5.98},{"r":1,"c":2,"x":10.12,"y":5.86},{"r":1,"c":2,"x":10.37,"y":5.67},{"r":1,"c":2,"x":10.62,"y":5.67},{"r":1,"c":2,"x":10.86,"y":4.52},{"r":1,"c":2,"x":11.11,"y":2.41},{"r":1,"c":2,"x":11.36,"y":2.22},{"r":1,"c":2,"x":11.6,"y":2.03},{"r":1,"c":2,"x":11.85,"y":2.22},{"r":1,"c":2,"x":12.1,"y":2.03},{"r":1,"c":2,"x":12.35,"y":1.65},{"r":1,"c":2,"x":12.59,"y":1.46},{"r":1,"c":2,"x":12.84,"y":0},{"r":1,"c":2,"x":13.09,"y":1.46},{"r":1,"c":2,"x":13.33,"y":1.65},{"r":1,"c":2,"x":13.58,"y":2.03},{"r":1,"c":2,"x":13.83,"y":1.46},{"r":1,"c":2,"x":14.07,"y":2.22},{"r":1,"c":2,"x":14.32,"y":2.03},{"r":1,"c":2,"x":14.57,"y":2.22},{"r":1,"c":2,"x":14.81,"y":1.46},{"r":1,"c":2,"x":15.06,"y":2.99},{"r":1,"c":2,"x":15.31,"y":3.37},{"r":1,"c":2,"x":15.56,"y":3.75},{"r":1,"c":2,"x":15.8,"y":5.29},{"r":1,"c":2,"x":16.05,"y":6.05},{"r":1,"c":2,"x":16.3,"y":6.82},{"r":1,"c":2,"x":16.54,"y":5.67},{"r":1,"c":2,"x":16.79,"y":4.52},{"r":1,"c":2,"x":17.04,"y":4.9},{"r":1,"c":2,"x":17.28,"y":4.14},{"r":1,"c":2,"x":17.53,"y":4.52},{"r":1,"c":2,"x":17.78,"y":3.75},{"r":1,"c":2,"x":18.02,"y":3.37},{"r":1,"c":2,"x":18.27,"y":2.99},{"r":1,"c":2,"x":18.52,"y":2.22},{"r":1,"c":2,"x":18.77,"y":0},{"r":1,"c":2,"x":19.01,"y":1.46},{"r":1,"c":2,"x":19.26,"y":2.22},{"r":1,"c":2,"x":19.51,"y":1.46},{"r":1,"c":2,"x":19.75,"y":1.07},{"r":1,"c":2,"x":20.0,"y":1.46},{"r":1,"c":2,"x":20.25,"y":1.26},{"r":1,"c":2,"x":20.49,"y":1.84},{"r":1,"c":2,"x":20.74,"y":2.22},{"r":1,"c":2,"x":20.99,"y":2.8},{"r":1,"c":2,"x":21.23,"y":2.99},{"r":1,"c":2,"x":21.48,"y":3.37},{"r":1,"c":2,"x":21.73,"y":3.95},{"r":1,"c":2,"x":21.98,"y":3.37},{"r":1,"c":2,"x":22.22,"y":2.6},{"r":1,"c":2,"x":22.47,"y":2.8},{"r":1,"c":2,"x":22.72,"y":2.6},{"r":1,"c":2,"x":22.96,"y":2.41},{"r":1,"c":2,"x":23.21,"y":2.22},{"r":1,"c":2,"x":23.46,"y":2.03},{"r":1,"c":2,"x":23.7,"y":1.46},{"r":1,"c":2,"x":23.95,"y":0.69},{"r":1,"c":2,"x":24.2,"y":0},{"r":1,"c":2,"x":50,"y":0},
{"r":1,"c":3,"x":0,"y":14.87},{"r":1,"c":3,"x":0.25,"y":12.18},{"r":1,"c":3,"x":0.49,"y":11.42},{"r":1,"c":3,"x":0.74,"y":11.03},{"r":1,"c":3,"x":0.99,"y":8.35},{"r":1,"c":3,"x":1.23,"y":6.82},{"r":1,"c":3,"x":1.48,"y":10.27},{"r":1,"c":3,"x":1.73,"y":11.42},{"r":1,"c":3,"x":1.98,"y":10.65},{"r":1,"c":3,"x":2.22,"y":9.12},{"r":1,"c":3,"x":2.47,"y":9.89},{"r":1,"c":3,"x":2.72,"y":11.03},{"r":1,"c":3,"x":2.96,"y":10.27},{"r":1,"c":3,"x":3.21,"y":9.12},{"r":1,"c":3,"x":3.46,"y":9.89},{"r":1,"c":3,"x":3.7,"y":10.65},{"r":1,"c":3,"x":3.95,"y":11.8},{"r":1,"c":3,"x":4.2,"y":12.57},{"r":1,"c":3,"x":4.44,"y":13.33},{"r":1,"c":3,"x":4.69,"y":14.1},{"r":1,"c":3,"x":4.94,"y":14.67},{"r":1,"c":3,"x":5.19,"y":14.3},{"r":1,"c":3,"x":5.43,"y":14.48},{"r":1,"c":3,"x":5.68,"y":13.33},{"r":1,"c":3,"x":5.93,"y":12.57},{"r":1,"c":3,"x":6.17,"y":13.72},{"r":1,"c":3,"x":6.42,"y":12.95},{"r":1,"c":3,"x":6.67,"y":13.33},{"r":1,"c":3,"x":6.91,"y":13.91},{"r":1,"c":3,"x":7.16,"y":12.95},{"r":1,"c":3,"x":7.41,"y":12.18},{"r":1,"c":3,"x":7.65,"y":11.42},{"r":1,"c":3,"x":7.9,"y":10.65},{"r":1,"c":3,"x":8.15,"y":11.8},{"r":1,"c":3,"x":8.4,"y":9.89},{"r":1,"c":3,"x":8.64,"y":9.5},{"r":1,"c":3,"x":8.89,"y":11.03},{"r":1,"c":3,"x":9.14,"y":10.27},{"r":1,"c":3,"x":9.38,"y":10.65},{"r":1,"c":3,"x":9.63,"y":9.89},{"r":1,"c":3,"x":9.88,"y":9.5},{"r":1,"c":3,"x":10.12,"y":8.74},{"r":1,"c":3,"x":10.37,"y":8.35},{"r":1,"c":3,"x":10.62,"y":7.2},{"r":1,"c":3,"x":10.86,"y":7.97},{"r":1,"c":3,"x":11.11,"y":8.35},{"r":1,"c":3,"x":11.36,"y":9.12},{"r":1,"c":3,"x":11.6,"y":9.5},{"r":1,"c":3,"x":11.85,"y":10.27},{"r":1,"c":3,"x":12.1,"y":9.89},{"r":1,"c":3,"x":12.35,"y":11.03},{"r":1,"c":3,"x":12.59,"y":10.65},{"r":1,"c":3,"x":12.84,"y":11.42},{"r":1,"c":3,"x":13.09,"y":11.03},{"r":1,"c":3,"x":13.33,"y":12.18},{"r":1,"c":3,"x":13.58,"y":12.76},{"r":1,"c":3,"x":13.83,"y":11.8},{"r":1,"c":3,"x":14.07,"y":11.42},{"r":1,"c":3,"x":14.32,"y":12.18},{"r":1,"c":3,"x":14.57,"y":11.8},{"r":1,"c":3,"x":14.81,"y":10.65},{"r":1,"c":3,"x":15.06,"y":11.03},{"r":1,"c":3,"x":15.31,"y":11.42},{"r":1,"c":3,"x":15.56,"y":10.65},{"r":1,"c":3,"x":15.8,"y":9.89},{"r":1,"c":3,"x":16.05,"y":11.42},{"r":1,"c":3,"x":16.3,"y":11.03},{"r":1,"c":3,"x":16.54,"y":10.27},{"r":1,"c":3,"x":16.79,"y":11.03},{"r":1,"c":3,"x":17.04,"y":9.89},{"r":1,"c":3,"x":17.28,"y":10.65},{"r":1,"c":3,"x":17.53,"y":11.03},{"r":1,"c":3,"x":17.78,"y":9.89},{"r":1,"c":3,"x":18.02,"y":10.65},{"r":1,"c":3,"x":18.27,"y":11.42},{"r":1,"c":3,"x":18.52,"y":11.03},{"r":1,"c":3,"x":18.77,"y":10.27},{"r":1,"c":3,"x":19.01,"y":10.65},{"r":1,"c":3,"x":19.26,"y":10.46},{"r":1,"c":3,"x":19.51,"y":10.27},{"r":1,"c":3,"x":19.75,"y":10.08},{"r":1,"c":3,"x":20.0,"y":9.5},{"r":1,"c":3,"x":20.25,"y":9.12},{"r":1,"c":3,"x":20.49,"y":8.35},{"r":1,"c":3,"x":20.74,"y":7.2},{"r":1,"c":3,"x":20.99,"y":6.05},{"r":1,"c":3,"x":21.23,"y":4.52},{"r":1,"c":3,"x":21.48,"y":1.84},{"r":1,"c":3,"x":21.73,"y":0},{"r":1,"c":3,"x":50,"y":0},
{"r":2,"c":0,"x":0,"y":13.75},{"r":2,"c":0,"x":0.25,"y":14.9},{"r":2,"c":0,"x":0.49,"y":14.52},{"r":2,"c":0,"x":0.74,"y":14.71},{"r":2,"c":0,"x":0.99,"y":14.14},{"r":2,"c":0,"x":1.23,"y":14.52},{"r":2,"c":0,"x":1.48,"y":14.33},{"r":2,"c":0,"x":1.73,"y":14.14},{"r":2,"c":0,"x":1.98,"y":13.75},{"r":2,"c":0,"x":2.22,"y":12.99},{"r":2,"c":0,"x":2.47,"y":12.03},{"r":2,"c":0,"x":2.72,"y":13.37},{"r":2,"c":0,"x":2.96,"y":12.61},{"r":2,"c":0,"x":3.21,"y":12.99},{"r":2,"c":0,"x":3.46,"y":13.37},{"r":2,"c":0,"x":3.7,"y":12.61},{"r":2,"c":0,"x":3.95,"y":11.84},{"r":2,"c":0,"x":4.2,"y":10.69},{"r":2,"c":0,"x":4.44,"y":9.92},{"r":2,"c":0,"x":4.69,"y":9.54},{"r":2,"c":0,"x":4.94,"y":8.77},{"r":2,"c":0,"x":5.19,"y":8.39},{"r":2,"c":0,"x":5.43,"y":8.01},{"r":2,"c":0,"x":5.68,"y":7.43},{"r":2,"c":0,"x":5.93,"y":7.62},{"r":2,"c":0,"x":6.17,"y":8.01},{"r":2,"c":0,"x":6.42,"y":8.39},{"r":2,"c":0,"x":6.67,"y":9.54},{"r":2,"c":0,"x":6.91,"y":8.77},{"r":2,"c":0,"x":7.16,"y":9.16},{"r":2,"c":0,"x":7.41,"y":8.39},{"r":2,"c":0,"x":7.65,"y":8.77},{"r":2,"c":0,"x":7.9,"y":8.2},{"r":2,"c":0,"x":8.15,"y":8.77},{"r":2,"c":0,"x":8.4,"y":9.54},{"r":2,"c":0,"x":8.64,"y":10.69},{"r":2,"c":0,"x":8.89,"y":11.07},{"r":2,"c":0,"x":9.14,"y":11.46},{"r":2,"c":0,"x":9.38,"y":11.84},{"r":2,"c":0,"x":9.63,"y":11.46},{"r":2,"c":0,"x":9.88,"y":11.07},{"r":2,"c":0,"x":10.12,"y":10.69},{"r":2,"c":0,"x":10.37,"y":9.54},{"r":2,"c":0,"x":10.62,"y":8.77},{"r":2,"c":0,"x":10.86,"y":7.62},{"r":2,"c":0,"x":11.11,"y":6.48},{"r":2,"c":0,"x":11.36,"y":5.52},{"r":2,"c":0,"x":11.6,"y":5.9},{"r":2,"c":0,"x":11.85,"y":5.33},{"r":2,"c":0,"x":12.1,"y":4.56},{"r":2,"c":0,"x":12.35,"y":4.18},{"r":2,"c":0,"x":12.59,"y":4.94},{"r":2,"c":0,"x":12.84,"y":4.18},{"r":2,"c":0,"x":13.09,"y":3.79},{"r":2,"c":0,"x":13.33,"y":4.37},{"r":2,"c":0,"x":13.58,"y":4.18},{"r":2,"c":0,"x":13.83,"y":3.79},{"r":2,"c":0,"x":14.07,"y":4.56},{"r":2,"c":0,"x":14.32,"y":3.03},{"r":2,"c":0,"x":14.57,"y":2.64},{"r":2,"c":0,"x":14.81,"y":2.26},{"r":2,"c":0,"x":15.06,"y":1.88},{"r":2,"c":0,"x":15.31,"y":1.49},{"r":2,"c":0,"x":15.56,"y":1.11},{"r":2,"c":0,"x":15.8,"y":0.73},{"r":2,"c":0,"x":16.05,"y":0.35},{"r":2,"c":0,"x":50,"y":0.35},
{"r":2,"c":1,"x":0,"y":13.0},{"r":2,"c":1,"x":0.49,"y":14.9},{"r":2,"c":1,"x":0.74,"y":14.14},{"r":2,"c":1,"x":0.99,"y":14.71},{"r":2,"c":1,"x":1.23,"y":13.94},{"r":2,"c":1,"x":1.48,"y":14.9},{"r":2,"c":1,"x":1.73,"y":14.33},{"r":2,"c":1,"x":1.98,"y":14.52},{"r":2,"c":1,"x":2.22,"y":13.56},{"r":2,"c":1,"x":2.47,"y":14.14},{"r":2,"c":1,"x":2.72,"y":13.37},{"r":2,"c":1,"x":2.96,"y":13.75},{"r":2,"c":1,"x":3.21,"y":12.99},{"r":2,"c":1,"x":3.46,"y":13.56},{"r":2,"c":1,"x":3.7,"y":13.18},{"r":2,"c":1,"x":3.95,"y":12.61},{"r":2,"c":1,"x":4.2,"y":12.22},{"r":2,"c":1,"x":4.44,"y":12.8},{"r":2,"c":1,"x":4.69,"y":12.41},{"r":2,"c":1,"x":4.94,"y":12.22},{"r":2,"c":1,"x":5.19,"y":12.61},{"r":2,"c":1,"x":5.43,"y":12.99},{"r":2,"c":1,"x":5.68,"y":12.8},{"r":2,"c":1,"x":5.93,"y":13.18},{"r":2,"c":1,"x":6.17,"y":13.37},{"r":2,"c":1,"x":6.42,"y":13.75},{"r":2,"c":1,"x":6.67,"y":13.56},{"r":2,"c":1,"x":6.91,"y":13.37},{"r":2,"c":1,"x":7.16,"y":13.75},{"r":2,"c":1,"x":7.41,"y":13.94},{"r":2,"c":1,"x":7.65,"y":13.56},{"r":2,"c":1,"x":7.9,"y":13.37},{"r":2,"c":1,"x":8.15,"y":13.56},{"r":2,"c":1,"x":8.4,"y":13.18},{"r":2,"c":1,"x":8.64,"y":13.37},{"r":2,"c":1,"x":8.89,"y":13.56},{"r":2,"c":1,"x":9.14,"y":13.18},{"r":2,"c":1,"x":9.38,"y":12.99},{"r":2,"c":1,"x":9.63,"y":13.37},{"r":2,"c":1,"x":9.88,"y":13.75},{"r":2,"c":1,"x":10.12,"y":13.94},{"r":2,"c":1,"x":10.37,"y":13.75},{"r":2,"c":1,"x":10.62,"y":13.37},{"r":2,"c":1,"x":10.86,"y":13.56},{"r":2,"c":1,"x":11.11,"y":13.37},{"r":2,"c":1,"x":11.36,"y":12.61},{"r":2,"c":1,"x":11.6,"y":12.03},{"r":2,"c":1,"x":11.85,"y":11.46},{"r":2,"c":1,"x":12.1,"y":10.88},{"r":2,"c":1,"x":12.35,"y":10.31},{"r":2,"c":1,"x":12.59,"y":9.92},{"r":2,"c":1,"x":12.84,"y":10.69},{"r":2,"c":1,"x":13.09,"y":11.07},{"r":2,"c":1,"x":13.33,"y":11.46},{"r":2,"c":1,"x":13.58,"y":11.84},{"r":2,"c":1,"x":13.83,"y":11.46},{"r":2,"c":1,"x":14.07,"y":11.26},{"r":2,"c":1,"x":14.32,"y":11.07},{"r":2,"c":1,"x":14.57,"y":11.84},{"r":2,"c":1,"x":14.81,"y":12.61},{"r":2,"c":1,"x":15.06,"y":11.46},{"r":2,"c":1,"x":15.31,"y":11.07},{"r":2,"c":1,"x":15.56,"y":10.69},{"r":2,"c":1,"x":15.8,"y":11.46},{"r":2,"c":1,"x":16.05,"y":11.84},{"r":2,"c":1,"x":16.3,"y":12.03},{"r":2,"c":1,"x":16.54,"y":11.07},{"r":2,"c":1,"x":16.79,"y":10.31},{"r":2,"c":1,"x":17.04,"y":9.54},{"r":2,"c":1,"x":17.28,"y":9.16},{"r":2,"c":1,"x":17.53,"y":8.97},{"r":2,"c":1,"x":17.78,"y":8.77},{"r":2,"c":1,"x":18.02,"y":8.39},{"r":2,"c":1,"x":18.27,"y":8.01},{"r":2,"c":1,"x":18.52,"y":7.24},{"r":2,"c":1,"x":18.77,"y":6.86},{"r":2,"c":1,"x":19.01,"y":6.67},{"r":2,"c":1,"x":19.26,"y":6.86},{"r":2,"c":1,"x":19.51,"y":6.09},{"r":2,"c":1,"x":19.75,"y":5.71},{"r":2,"c":1,"x":20.0,"y":5.33},{"r":2,"c":1,"x":20.25,"y":5.13},{"r":2,"c":1,"x":20.49,"y":5.71},{"r":2,"c":1,"x":20.74,"y":4.94},{"r":2,"c":1,"x":20.99,"y":4.18},{"r":2,"c":1,"x":21.23,"y":3.41},{"r":2,"c":1,"x":21.48,"y":2.26},{"r":2,"c":1,"x":21.73,"y":3.03},{"r":2,"c":1,"x":21.98,"y":4.18},{"r":2,"c":1,"x":22.22,"y":3.41},{"r":2,"c":1,"x":22.47,"y":3.03},{"r":2,"c":1,"x":22.72,"y":3.79},{"r":2,"c":1,"x":22.96,"y":3.03},{"r":2,"c":1,"x":23.21,"y":4.18},{"r":2,"c":1,"x":23.46,"y":3.41},{"r":2,"c":1,"x":23.7,"y":3.79},{"r":2,"c":1,"x":23.95,"y":4.18},{"r":2,"c":1,"x":24.2,"y":4.48},{"r":2,"c":1,"x":24.44,"y":2.64},{"r":2,"c":1,"x":24.69,"y":1.0},{"r":2,"c":1,"x":27.65,"y":1.0},{"r":2,"c":1,"x":27.9,"y":0},{"r":2,"c":1,"x":28.2,"y":1},{"r":2,"c":1,"x":28.5,"y":0},{"r":2,"c":1,"x":28.8,"y":1},{"r":2,"c":1,"x":29.14,"y":1.95},{"r":2,"c":1,"x":29.3,"y":0},{"r":2,"c":1,"x":29.6,"y":1},{"r":2,"c":1,"x":29.9,"y":0},{"r":2,"c":1,"x":30.2,"y":1},{"r":2,"c":1,"x":30.8,"y":1},{"r":2,"c":1,"x":31.0,"y":0},{"r":2,"c":1,"x":31.3,"y":1},{"r":2,"c":1,"x":31.6,"y":0},{"r":2,"c":1,"x":31.9,"y":1},{"r":2,"c":1,"x":32.2,"y":0},{"r":2,"c":1,"x":32.5,"y":1},{"r":2,"c":1,"x":33.0,"y":1},{"r":2,"c":1,"x":33.2,"y":0},{"r":2,"c":1,"x":33.5,"y":1},{"r":2,"c":1,"x":33.8,"y":0},{"r":2,"c":1,"x":34.1,"y":1},{"r":2,"c":1,"x":34.4,"y":0},{"r":2,"c":1,"x":34.7,"y":1},{"r":2,"c":1,"x":35.0,"y":0},{"r":2,"c":1,"x":35.3,"y":1},{"r":2,"c":1,"x":35.9,"y":1},{"r":2,"c":1,"x":36.1,"y":0},{"r":2,"c":1,"x":36.4,"y":1},{"r":2,"c":1,"x":36.7,"y":0},{"r":2,"c":1,"x":37.0,"y":1},{"r":2,"c":1,"x":37.3,"y":0},{"r":2,"c":1,"x":37.6,"y":1},{"r":2,"c":1,"x":37.9,"y":0},{"r":2,"c":1,"x":38.2,"y":1},{"r":2,"c":1,"x":38.5,"y":0},{"r":2,"c":1,"x":38.8,"y":1},{"r":2,"c":1,"x":39.1,"y":0},{"r":2,"c":1,"x":39.4,"y":1},{"r":2,"c":1,"x":40.0,"y":1},{"r":2,"c":1,"x":40.2,"y":0},{"r":2,"c":1,"x":40.5,"y":1},{"r":2,"c":1,"x":40.8,"y":0},{"r":2,"c":1,"x":41.1,"y":1},{"r":2,"c":1,"x":41.4,"y":0},{"r":2,"c":1,"x":41.7,"y":1},{"r":2,"c":1,"x":42.0,"y":0},{"r":2,"c":1,"x":42.3,"y":1},{"r":2,"c":1,"x":42.6,"y":0},{"r":2,"c":1,"x":42.9,"y":1},{"r":2,"c":1,"x":43.2,"y":0},{"r":2,"c":1,"x":43.5,"y":1},{"r":2,"c":1,"x":43.8,"y":0},{"r":2,"c":1,"x":44.1,"y":1},{"r":2,"c":1,"x":44.4,"y":0},{"r":2,"c":1,"x":44.7,"y":1},{"r":2,"c":1,"x":45.0,"y":0},{"r":2,"c":1,"x":45.3,"y":1},{"r":2,"c":1,"x":45.6,"y":0},{"r":2,"c":1,"x":45.9,"y":1},{"r":2,"c":1,"x":46.2,"y":0},{"r":2,"c":1,"x":46.5,"y":1},{"r":2,"c":1,"x":46.8,"y":0},{"r":2,"c":1,"x":47.1,"y":1},{"r":2,"c":1,"x":47.4,"y":0},{"r":2,"c":1,"x":47.7,"y":1},{"r":2,"c":1,"x":48.0,"y":0},{"r":2,"c":1,"x":48.3,"y":1},{"r":2,"c":1,"x":48.6,"y":0},{"r":2,"c":1,"x":48.9,"y":1},{"r":2,"c":1,"x":49.2,"y":0},{"r":2,"c":1,"x":49.5,"y":1},{"r":2,"c":1,"x":49.8,"y":0},{"r":2,"c":1,"x":50,"y":1},
{"r":2,"c":2,"x":0,"y":15.06},{"r":2,"c":2,"x":0.25,"y":14.1},{"r":2,"c":2,"x":0.49,"y":12.95},{"r":2,"c":2,"x":0.74,"y":10.65},{"r":2,"c":2,"x":0.99,"y":9.89},{"r":2,"c":2,"x":1.23,"y":9.12},{"r":2,"c":2,"x":1.48,"y":11.03},{"r":2,"c":2,"x":1.73,"y":12.0},{"r":2,"c":2,"x":1.98,"y":9.12},{"r":2,"c":2,"x":2.22,"y":7.59},{"r":2,"c":2,"x":2.47,"y":8.74},{"r":2,"c":2,"x":2.72,"y":7.97},{"r":2,"c":2,"x":2.96,"y":8.35},{"r":2,"c":2,"x":3.21,"y":7.59},{"r":2,"c":2,"x":3.46,"y":7.97},{"r":2,"c":2,"x":3.7,"y":6.82},{"r":2,"c":2,"x":3.95,"y":5.67},{"r":2,"c":2,"x":4.2,"y":4.52},{"r":2,"c":2,"x":4.44,"y":3.37},{"r":2,"c":2,"x":4.69,"y":1.84},{"r":2,"c":2,"x":4.94,"y":0},{"r":2,"c":2,"x":5.19,"y":0},{"r":2,"c":2,"x":5.43,"y":2.61},{"r":2,"c":2,"x":5.68,"y":2.99},{"r":2,"c":2,"x":5.93,"y":3.37},{"r":2,"c":2,"x":6.17,"y":2.99},{"r":2,"c":2,"x":6.42,"y":3.75},{"r":2,"c":2,"x":6.67,"y":3.37},{"r":2,"c":2,"x":6.91,"y":4.14},{"r":2,"c":2,"x":7.16,"y":3.75},{"r":2,"c":2,"x":7.41,"y":4.52},{"r":2,"c":2,"x":7.65,"y":4.14},{"r":2,"c":2,"x":7.9,"y":4.9},{"r":2,"c":2,"x":8.15,"y":4.14},{"r":2,"c":2,"x":8.4,"y":4.52},{"r":2,"c":2,"x":8.64,"y":3.75},{"r":2,"c":2,"x":8.89,"y":3.37},{"r":2,"c":2,"x":9.14,"y":3.75},{"r":2,"c":2,"x":9.38,"y":4.14},{"r":2,"c":2,"x":9.63,"y":2.99},{"r":2,"c":2,"x":9.88,"y":2.61},{"r":2,"c":2,"x":10.12,"y":1.84},{"r":2,"c":2,"x":10.37,"y":2.61},{"r":2,"c":2,"x":10.62,"y":2.22},{"r":2,"c":2,"x":10.86,"y":3.37},{"r":2,"c":2,"x":11.11,"y":1.84},{"r":2,"c":2,"x":11.36,"y":2.61},{"r":2,"c":2,"x":11.6,"y":3.75},{"r":2,"c":2,"x":11.85,"y":4.14},{"r":2,"c":2,"x":12.1,"y":4.29},{"r":2,"c":2,"x":12.35,"y":2.99},{"r":2,"c":2,"x":12.59,"y":1.84},{"r":2,"c":2,"x":12.84,"y":4.29},{"r":2,"c":2,"x":13.09,"y":3.75},{"r":2,"c":2,"x":13.33,"y":2.22},{"r":2,"c":2,"x":13.58,"y":1.07},{"r":2,"c":2,"x":13.83,"y":0},{"r":2,"c":2,"x":14.07,"y":1.46},{"r":2,"c":2,"x":14.32,"y":0},{"r":2,"c":2,"x":14.57,"y":1.84},{"r":2,"c":2,"x":14.81,"y":0},{"r":2,"c":2,"x":15.06,"y":1.46},{"r":2,"c":2,"x":15.31,"y":0},{"r":2,"c":2,"x":15.56,"y":1.84},{"r":2,"c":2,"x":15.8,"y":0},{"r":2,"c":2,"x":50,"y":0},
{"r":2,"c":3,"x":0,"y":14.87},{"r":2,"c":3,"x":0.25,"y":14.1},{"r":2,"c":3,"x":0.49,"y":14.67},{"r":2,"c":3,"x":0.74,"y":13.72},{"r":2,"c":3,"x":0.99,"y":14.48},{"r":2,"c":3,"x":1.23,"y":13.91},{"r":2,"c":3,"x":1.48,"y":14.3},{"r":2,"c":3,"x":1.73,"y":13.52},{"r":2,"c":3,"x":1.98,"y":14.1},{"r":2,"c":3,"x":2.22,"y":13.72},{"r":2,"c":3,"x":2.47,"y":13.91},{"r":2,"c":3,"x":2.72,"y":13.33},{"r":2,"c":3,"x":2.96,"y":14.1},{"r":2,"c":3,"x":3.21,"y":13.52},{"r":2,"c":3,"x":3.46,"y":13.33},{"r":2,"c":3,"x":3.7,"y":13.14},{"r":2,"c":3,"x":3.95,"y":12.18},{"r":2,"c":3,"x":4.2,"y":10.65},{"r":2,"c":3,"x":4.44,"y":13.33},{"r":2,"c":3,"x":4.69,"y":12.57},{"r":2,"c":3,"x":4.94,"y":11.8},{"r":2,"c":3,"x":5.19,"y":11.23},{"r":2,"c":3,"x":5.43,"y":10.27},{"r":2,"c":3,"x":5.68,"y":11.03},{"r":2,"c":3,"x":5.93,"y":9.89},{"r":2,"c":3,"x":6.17,"y":9.12},{"r":2,"c":3,"x":6.42,"y":9.5},{"r":2,"c":3,"x":6.67,"y":8.74},{"r":2,"c":3,"x":6.91,"y":7.97},{"r":2,"c":3,"x":7.16,"y":8.35},{"r":2,"c":3,"x":7.41,"y":7.59},{"r":2,"c":3,"x":7.65,"y":6.82},{"r":2,"c":3,"x":7.9,"y":7.2},{"r":2,"c":3,"x":8.15,"y":6.05},{"r":2,"c":3,"x":8.4,"y":4.9},{"r":2,"c":3,"x":8.64,"y":4.33},{"r":2,"c":3,"x":8.89,"y":5.29},{"r":2,"c":3,"x":9.14,"y":4.52},{"r":2,"c":3,"x":9.38,"y":5.67},{"r":2,"c":3,"x":9.63,"y":5.29},{"r":2,"c":3,"x":9.88,"y":6.05},{"r":2,"c":3,"x":10.12,"y":5.67},{"r":2,"c":3,"x":10.37,"y":6.44},{"r":2,"c":3,"x":10.62,"y":6.63},{"r":2,"c":3,"x":10.86,"y":5.67},{"r":2,"c":3,"x":11.11,"y":6.05},{"r":2,"c":3,"x":11.36,"y":5.29},{"r":2,"c":3,"x":11.6,"y":5.67},{"r":2,"c":3,"x":11.85,"y":5.29},{"r":2,"c":3,"x":12.1,"y":5.48},{"r":2,"c":3,"x":12.35,"y":5.29},{"r":2,"c":3,"x":12.59,"y":5.1},{"r":2,"c":3,"x":12.84,"y":4.9},{"r":2,"c":3,"x":13.09,"y":4.52},{"r":2,"c":3,"x":13.33,"y":4.71},{"r":2,"c":3,"x":13.58,"y":4.14},{"r":2,"c":3,"x":13.83,"y":3.75},{"r":2,"c":3,"x":14.07,"y":3.95},{"r":2,"c":3,"x":14.32,"y":3.37},{"r":2,"c":3,"x":14.57,"y":2.99},{"r":2,"c":3,"x":14.81,"y":2.61},{"r":2,"c":3,"x":15.06,"y":1.84},{"r":2,"c":3,"x":15.31,"y":3.37},{"r":2,"c":3,"x":15.56,"y":2.22},{"r":2,"c":3,"x":15.8,"y":2.99},{"r":2,"c":3,"x":16.05,"y":3.37},{"r":2,"c":3,"x":16.3,"y":2.61},{"r":2,"c":3,"x":16.54,"y":2.99},{"r":2,"c":3,"x":16.79,"y":2.41},{"r":2,"c":3,"x":17.04,"y":2.99},{"r":2,"c":3,"x":17.28,"y":2.22},{"r":2,"c":3,"x":17.53,"y":2.41},{"r":2,"c":3,"x":17.78,"y":2.03},{"r":2,"c":3,"x":18.02,"y":1.84},{"r":2,"c":3,"x":18.27,"y":1.65},{"r":2,"c":3,"x":18.52,"y":1.46},{"r":2,"c":3,"x":18.77,"y":1.46},{"r":2,"c":3,"x":19.01,"y":1.38},{"r":2,"c":3,"x":19.26,"y":1.38},{"r":2,"c":3,"x":19.51,"y":1.07},{"r":2,"c":3,"x":19.75,"y":0},{"r":2,"c":3,"x":23.46,"y":0},{"r":2,"c":3,"x":23.58,"y":1.46},{"r":2,"c":3,"x":23.83,"y":0},{"r":2,"c":3,"x":24.07,"y":1.46},{"r":2,"c":3,"x":24.32,"y":1.46},{"r":2,"c":3,"x":24.57,"y":0},{"r":2,"c":3,"x":26.05,"y":0},{"r":2,"c":3,"x":26.17,"y":1.46},{"r":2,"c":3,"x":26.42,"y":0},{"r":2,"c":3,"x":26.67,"y":1.46},{"r":2,"c":3,"x":26.91,"y":0},{"r":2,"c":3,"x":27.16,"y":1.5},{"r":2,"c":3,"x":34.57,"y":1.5},{"r":2,"c":3,"x":34.7,"y":2.0},{"r":2,"c":3,"x":34.81,"y":0.95},{"r":2,"c":3,"x":36.42,"y":0.95},{"r":2,"c":3,"x":36.54,"y":2.0},{"r":2,"c":3,"x":36.67,"y":0},{"r":2,"c":3,"x":36.79,"y":1.0},{"r":2,"c":3,"x":50,"y":1.0},
{"r":3,"c":0,"x":0,"y":6.7},{"r":3,"c":0,"x":0.12,"y":11.69},{"r":3,"c":0,"x":0.37,"y":14.75},{"r":3,"c":0,"x":0.62,"y":14.94},{"r":3,"c":0,"x":0.86,"y":13.6},{"r":3,"c":0,"x":1.11,"y":12.45},{"r":3,"c":0,"x":1.36,"y":11.3},{"r":3,"c":0,"x":1.6,"y":13.22},{"r":3,"c":0,"x":1.85,"y":12.84},{"r":3,"c":0,"x":2.1,"y":12.07},{"r":3,"c":0,"x":2.35,"y":11.69},{"r":3,"c":0,"x":2.59,"y":10.92},{"r":3,"c":0,"x":2.84,"y":10.15},{"r":3,"c":0,"x":3.09,"y":11.3},{"r":3,"c":0,"x":3.33,"y":9.77},{"r":3,"c":0,"x":3.58,"y":9.0},{"r":3,"c":0,"x":3.83,"y":8.24},{"r":3,"c":0,"x":4.07,"y":6.32},{"r":3,"c":0,"x":4.32,"y":9.0},{"r":3,"c":0,"x":4.57,"y":7.47},{"r":3,"c":0,"x":4.81,"y":10.15},{"r":3,"c":0,"x":5.06,"y":10.54},{"r":3,"c":0,"x":5.31,"y":10.15},{"r":3,"c":0,"x":5.56,"y":9.77},{"r":3,"c":0,"x":5.8,"y":10.92},{"r":3,"c":0,"x":6.05,"y":10.15},{"r":3,"c":0,"x":6.3,"y":10.54},{"r":3,"c":0,"x":6.54,"y":9.77},{"r":3,"c":0,"x":6.79,"y":9.39},{"r":3,"c":0,"x":7.04,"y":10.15},{"r":3,"c":0,"x":7.28,"y":9.77},{"r":3,"c":0,"x":7.53,"y":9.96},{"r":3,"c":0,"x":7.78,"y":9.39},{"r":3,"c":0,"x":8.02,"y":9.77},{"r":3,"c":0,"x":8.27,"y":8.24},{"r":3,"c":0,"x":8.52,"y":7.09},{"r":3,"c":0,"x":8.77,"y":7.47},{"r":3,"c":0,"x":9.01,"y":6.32},{"r":3,"c":0,"x":9.26,"y":6.7},{"r":3,"c":0,"x":9.51,"y":5.94},{"r":3,"c":0,"x":9.75,"y":6.32},{"r":3,"c":0,"x":10.0,"y":6.7},{"r":3,"c":0,"x":10.25,"y":5.56},{"r":3,"c":0,"x":10.49,"y":6.32},{"r":3,"c":0,"x":10.74,"y":5.94},{"r":3,"c":0,"x":10.99,"y":7.09},{"r":3,"c":0,"x":11.23,"y":6.32},{"r":3,"c":0,"x":11.48,"y":5.17},{"r":3,"c":0,"x":11.73,"y":5.56},{"r":3,"c":0,"x":11.98,"y":4.02},{"r":3,"c":0,"x":12.22,"y":5.17},{"r":3,"c":0,"x":12.47,"y":4.41},{"r":3,"c":0,"x":12.72,"y":5.94},{"r":3,"c":0,"x":12.96,"y":5.17},{"r":3,"c":0,"x":13.21,"y":4.41},{"r":3,"c":0,"x":13.46,"y":5.56},{"r":3,"c":0,"x":13.7,"y":4.79},{"r":3,"c":0,"x":13.95,"y":5.75},{"r":3,"c":0,"x":14.2,"y":5.17},{"r":3,"c":0,"x":14.44,"y":4.41},{"r":3,"c":0,"x":14.69,"y":4.79},{"r":3,"c":0,"x":14.94,"y":4.02},{"r":3,"c":0,"x":15.19,"y":4.41},{"r":3,"c":0,"x":15.43,"y":4.02},{"r":3,"c":0,"x":15.68,"y":4.79},{"r":3,"c":0,"x":15.93,"y":5.56},{"r":3,"c":0,"x":16.17,"y":6.7},{"r":3,"c":0,"x":16.42,"y":5.94},{"r":3,"c":0,"x":16.67,"y":5.17},{"r":3,"c":0,"x":16.91,"y":4.41},{"r":3,"c":0,"x":17.16,"y":4.79},{"r":3,"c":0,"x":17.41,"y":4.02},{"r":3,"c":0,"x":17.65,"y":4.41},{"r":3,"c":0,"x":17.9,"y":3.64},{"r":3,"c":0,"x":18.15,"y":3.26},{"r":3,"c":0,"x":18.4,"y":3.64},{"r":3,"c":0,"x":18.64,"y":3.26},{"r":3,"c":0,"x":18.89,"y":2.87},{"r":3,"c":0,"x":19.14,"y":2.49},{"r":3,"c":0,"x":19.38,"y":2.11},{"r":3,"c":0,"x":19.63,"y":1.72},{"r":3,"c":0,"x":19.88,"y":1.34},{"r":3,"c":0,"x":20.12,"y":0.96},{"r":3,"c":0,"x":20.37,"y":0},{"r":3,"c":0,"x":21.85,"y":0},{"r":3,"c":0,"x":22.1,"y":1.72},{"r":3,"c":0,"x":22.35,"y":2.49},{"r":3,"c":0,"x":22.59,"y":2.87},{"r":3,"c":0,"x":22.84,"y":2.11},{"r":3,"c":0,"x":23.09,"y":2.68},{"r":3,"c":0,"x":23.33,"y":2.11},{"r":3,"c":0,"x":23.58,"y":1.72},{"r":3,"c":0,"x":23.83,"y":2.68},{"r":3,"c":0,"x":24.07,"y":2.11},{"r":3,"c":0,"x":24.32,"y":1.34},{"r":3,"c":0,"x":24.57,"y":0},{"r":3,"c":0,"x":24.81,"y":2.11},{"r":3,"c":0,"x":25.06,"y":2.49},{"r":3,"c":0,"x":25.31,"y":2.68},{"r":3,"c":0,"x":25.56,"y":2.11},{"r":3,"c":0,"x":25.8,"y":2.68},{"r":3,"c":0,"x":26.05,"y":2.87},{"r":3,"c":0,"x":26.3,"y":2.3},{"r":3,"c":0,"x":26.54,"y":1.46},{"r":3,"c":0,"x":32.84,"y":1.46},{"r":3,"c":0,"x":32.96,"y":0.96},{"r":3,"c":0,"x":33.21,"y":1.53},{"r":3,"c":0,"x":33.46,"y":0.96},{"r":3,"c":0,"x":33.95,"y":1.34},{"r":3,"c":0,"x":34.2,"y":0.96},{"r":3,"c":0,"x":34.44,"y":1.53},{"r":3,"c":0,"x":34.69,"y":0.96},{"r":3,"c":0,"x":34.94,"y":0.96},{"r":3,"c":0,"x":35.19,"y":0},{"r":3,"c":0,"x":35.43,"y":0.96},{"r":3,"c":0,"x":35.68,"y":0},{"r":3,"c":0,"x":35.93,"y":1.34},{"r":3,"c":0,"x":36.17,"y":0},{"r":3,"c":0,"x":36.42,"y":0.96},{"r":3,"c":0,"x":36.67,"y":0},{"r":3,"c":0,"x":36.91,"y":0.96},{"r":3,"c":0,"x":37.16,"y":0.96},{"r":3,"c":0,"x":37.41,"y":0},{"r":3,"c":0,"x":37.65,"y":0.57},{"r":3,"c":0,"x":37.9,"y":0},{"r":3,"c":0,"x":38.15,"y":1.46},{"r":3,"c":0,"x":42.35,"y":1.46},{"r":3,"c":0,"x":42.59,"y":0.96},{"r":3,"c":0,"x":42.84,"y":1.46},{"r":3,"c":0,"x":43.09,"y":0.77},{"r":3,"c":0,"x":43.33,"y":0},{"r":3,"c":0,"x":50,"y":0},
{"r":3,"c":1,"x":0,"y":14.94},{"r":3,"c":1,"x":0.37,"y":13.6},{"r":3,"c":1,"x":0.62,"y":12.84},{"r":3,"c":1,"x":0.86,"y":12.07},{"r":3,"c":1,"x":1.11,"y":10.15},{"r":3,"c":1,"x":1.36,"y":8.24},{"r":3,"c":1,"x":1.6,"y":7.85},{"r":3,"c":1,"x":1.85,"y":6.32},{"r":3,"c":1,"x":2.1,"y":2.68},{"r":3,"c":1,"x":2.35,"y":3.64},{"r":3,"c":1,"x":2.59,"y":4.41},{"r":3,"c":1,"x":2.84,"y":3.64},{"r":3,"c":1,"x":3.09,"y":5.94},{"r":3,"c":1,"x":3.33,"y":8.24},{"r":3,"c":1,"x":3.58,"y":7.47},{"r":3,"c":1,"x":3.83,"y":7.85},{"r":3,"c":1,"x":4.07,"y":6.7},{"r":3,"c":1,"x":4.32,"y":5.94},{"r":3,"c":1,"x":4.57,"y":6.32},{"r":3,"c":1,"x":4.81,"y":5.17},{"r":3,"c":1,"x":5.06,"y":4.41},{"r":3,"c":1,"x":5.31,"y":4.02},{"r":3,"c":1,"x":5.56,"y":3.26},{"r":3,"c":1,"x":5.8,"y":2.49},{"r":3,"c":1,"x":6.05,"y":1.34},{"r":3,"c":1,"x":6.3,"y":0},{"r":3,"c":1,"x":8.02,"y":0},{"r":3,"c":1,"x":8.15,"y":1.53},{"r":3,"c":1,"x":8.4,"y":0},{"r":3,"c":1,"x":8.64,"y":1.53},{"r":3,"c":1,"x":8.89,"y":1.53},{"r":3,"c":1,"x":9.14,"y":0},{"r":3,"c":1,"x":9.38,"y":1.53},{"r":3,"c":1,"x":9.63,"y":0},{"r":3,"c":1,"x":17.04,"y":0},{"r":3,"c":1,"x":17.16,"y":0.96},{"r":3,"c":1,"x":17.28,"y":0},{"r":3,"c":1,"x":50,"y":0},
{"r":3,"c":2,"x":0,"y":12.8},{"r":3,"c":2,"x":0.25,"y":14.71},{"r":3,"c":2,"x":0.49,"y":14.9},{"r":3,"c":2,"x":0.74,"y":14.52},{"r":3,"c":2,"x":0.99,"y":14.71},{"r":3,"c":2,"x":1.23,"y":14.33},{"r":3,"c":2,"x":1.48,"y":14.52},{"r":3,"c":2,"x":1.73,"y":14.14},{"r":3,"c":2,"x":1.98,"y":14.71},{"r":3,"c":2,"x":2.22,"y":14.52},{"r":3,"c":2,"x":2.47,"y":13.94},{"r":3,"c":2,"x":2.72,"y":14.33},{"r":3,"c":2,"x":2.96,"y":13.75},{"r":3,"c":2,"x":3.21,"y":14.14},{"r":3,"c":2,"x":3.46,"y":13.18},{"r":3,"c":2,"x":3.7,"y":13.56},{"r":3,"c":2,"x":3.95,"y":13.94},{"r":3,"c":2,"x":4.2,"y":13.37},{"r":3,"c":2,"x":4.44,"y":13.18},{"r":3,"c":2,"x":4.69,"y":13.56},{"r":3,"c":2,"x":4.94,"y":13.94},{"r":3,"c":2,"x":5.19,"y":13.18},{"r":3,"c":2,"x":5.43,"y":13.56},{"r":3,"c":2,"x":5.68,"y":13.75},{"r":3,"c":2,"x":5.93,"y":13.94},{"r":3,"c":2,"x":6.17,"y":14.14},{"r":3,"c":2,"x":6.42,"y":14.33},{"r":3,"c":2,"x":6.67,"y":14.14},{"r":3,"c":2,"x":6.91,"y":13.94},{"r":3,"c":2,"x":7.16,"y":13.75},{"r":3,"c":2,"x":7.41,"y":13.56},{"r":3,"c":2,"x":7.65,"y":13.18},{"r":3,"c":2,"x":7.9,"y":12.8},{"r":3,"c":2,"x":8.15,"y":12.03},{"r":3,"c":2,"x":8.4,"y":12.99},{"r":3,"c":2,"x":8.64,"y":13.18},{"r":3,"c":2,"x":8.89,"y":13.56},{"r":3,"c":2,"x":9.14,"y":12.8},{"r":3,"c":2,"x":9.38,"y":12.99},{"r":3,"c":2,"x":9.63,"y":12.8},{"r":3,"c":2,"x":9.88,"y":13.18},{"r":3,"c":2,"x":10.12,"y":13.37},{"r":3,"c":2,"x":10.37,"y":13.56},{"r":3,"c":2,"x":10.62,"y":13.18},{"r":3,"c":2,"x":10.86,"y":12.03},{"r":3,"c":2,"x":11.11,"y":11.26},{"r":3,"c":2,"x":11.36,"y":10.5},{"r":3,"c":2,"x":11.6,"y":10.11},{"r":3,"c":2,"x":11.85,"y":9.73},{"r":3,"c":2,"x":12.1,"y":8.97},{"r":3,"c":2,"x":12.35,"y":8.2},{"r":3,"c":2,"x":12.59,"y":9.35},{"r":3,"c":2,"x":12.84,"y":7.82},{"r":3,"c":2,"x":13.09,"y":7.43},{"r":3,"c":2,"x":13.33,"y":6.67},{"r":3,"c":2,"x":13.58,"y":7.05},{"r":3,"c":2,"x":13.83,"y":6.28},{"r":3,"c":2,"x":14.07,"y":6.67},{"r":3,"c":2,"x":14.32,"y":5.9},{"r":3,"c":2,"x":14.57,"y":5.52},{"r":3,"c":2,"x":14.81,"y":5.13},{"r":3,"c":2,"x":15.06,"y":4.75},{"r":3,"c":2,"x":15.31,"y":4.37},{"r":3,"c":2,"x":15.56,"y":3.22},{"r":3,"c":2,"x":15.8,"y":2.45},{"r":3,"c":2,"x":16.05,"y":3.6},{"r":3,"c":2,"x":16.3,"y":4.37},{"r":3,"c":2,"x":16.54,"y":5.13},{"r":3,"c":2,"x":16.79,"y":5.9},{"r":3,"c":2,"x":17.04,"y":6.67},{"r":3,"c":2,"x":17.28,"y":7.43},{"r":3,"c":2,"x":17.53,"y":7.82},{"r":3,"c":2,"x":17.78,"y":8.2},{"r":3,"c":2,"x":18.02,"y":7.82},{"r":3,"c":2,"x":18.27,"y":8.2},{"r":3,"c":2,"x":18.52,"y":8.39},{"r":3,"c":2,"x":18.77,"y":8.2},{"r":3,"c":2,"x":19.01,"y":8.58},{"r":3,"c":2,"x":19.26,"y":8.77},{"r":3,"c":2,"x":19.51,"y":8.97},{"r":3,"c":2,"x":19.75,"y":9.35},{"r":3,"c":2,"x":20.0,"y":9.73},{"r":3,"c":2,"x":20.25,"y":9.92},{"r":3,"c":2,"x":20.49,"y":10.11},{"r":3,"c":2,"x":20.74,"y":10.31},{"r":3,"c":2,"x":20.99,"y":10.11},{"r":3,"c":2,"x":21.23,"y":10.5},{"r":3,"c":2,"x":21.48,"y":10.69},{"r":3,"c":2,"x":21.73,"y":10.11},{"r":3,"c":2,"x":21.98,"y":9.92},{"r":3,"c":2,"x":22.22,"y":9.54},{"r":3,"c":2,"x":22.47,"y":9.16},{"r":3,"c":2,"x":22.72,"y":8.97},{"r":3,"c":2,"x":22.96,"y":8.58},{"r":3,"c":2,"x":23.21,"y":8.2},{"r":3,"c":2,"x":23.46,"y":7.82},{"r":3,"c":2,"x":23.7,"y":7.43},{"r":3,"c":2,"x":23.95,"y":7.62},{"r":3,"c":2,"x":24.2,"y":7.24},{"r":3,"c":2,"x":24.44,"y":7.05},{"r":3,"c":2,"x":24.69,"y":7.24},{"r":3,"c":2,"x":24.94,"y":6.67},{"r":3,"c":2,"x":25.19,"y":6.48},{"r":3,"c":2,"x":25.43,"y":6.67},{"r":3,"c":2,"x":25.68,"y":6.28},{"r":3,"c":2,"x":25.93,"y":5.9},{"r":3,"c":2,"x":26.17,"y":5.52},{"r":3,"c":2,"x":26.42,"y":5.71},{"r":3,"c":2,"x":26.67,"y":5.13},{"r":3,"c":2,"x":26.91,"y":4.75},{"r":3,"c":2,"x":27.16,"y":4.94},{"r":3,"c":2,"x":27.41,"y":4.37},{"r":3,"c":2,"x":27.65,"y":4.18},{"r":3,"c":2,"x":27.9,"y":3.79},{"r":3,"c":2,"x":28.15,"y":3.6},{"r":3,"c":2,"x":28.4,"y":3.41},{"r":3,"c":2,"x":28.64,"y":3.22},{"r":3,"c":2,"x":28.89,"y":3.03},{"r":3,"c":2,"x":29.14,"y":2.84},{"r":3,"c":2,"x":29.38,"y":2.45},{"r":3,"c":2,"x":29.63,"y":2.07},{"r":3,"c":2,"x":29.88,"y":1.3},{"r":3,"c":2,"x":30.12,"y":0},{"r":3,"c":2,"x":30.37,"y":0.73},{"r":3,"c":2,"x":30.62,"y":0},{"r":3,"c":2,"x":30.86,"y":1.3},{"r":3,"c":2,"x":31.11,"y":0},{"r":3,"c":2,"x":31.36,"y":1.49},{"r":3,"c":2,"x":31.6,"y":0.92},{"r":3,"c":2,"x":31.85,"y":1.88},{"r":3,"c":2,"x":32.1,"y":0},{"r":3,"c":2,"x":32.35,"y":1.3},{"r":3,"c":2,"x":32.59,"y":0},{"r":3,"c":2,"x":50,"y":0},
{"r":3,"c":3,"x":0,"y":14.9},{"r":3,"c":3,"x":0.25,"y":14.33},{"r":3,"c":3,"x":0.49,"y":13.18},{"r":3,"c":3,"x":0.74,"y":14.14},{"r":3,"c":3,"x":0.99,"y":13.56},{"r":3,"c":3,"x":1.23,"y":13.94},{"r":3,"c":3,"x":1.48,"y":12.99},{"r":3,"c":3,"x":1.73,"y":13.56},{"r":3,"c":3,"x":1.98,"y":12.8},{"r":3,"c":3,"x":2.22,"y":13.18},{"r":3,"c":3,"x":2.47,"y":12.41},{"r":3,"c":3,"x":2.72,"y":12.8},{"r":3,"c":3,"x":2.96,"y":13.37},{"r":3,"c":3,"x":3.21,"y":12.61},{"r":3,"c":3,"x":3.46,"y":12.22},{"r":3,"c":3,"x":3.7,"y":12.8},{"r":3,"c":3,"x":3.95,"y":12.03},{"r":3,"c":3,"x":4.2,"y":12.41},{"r":3,"c":3,"x":4.44,"y":11.65},{"r":3,"c":3,"x":4.69,"y":12.99},{"r":3,"c":3,"x":4.94,"y":11.65},{"r":3,"c":3,"x":5.19,"y":10.11},{"r":3,"c":3,"x":5.43,"y":8.2},{"r":3,"c":3,"x":5.68,"y":6.67},{"r":3,"c":3,"x":5.93,"y":5.9},{"r":3,"c":3,"x":6.17,"y":5.13},{"r":3,"c":3,"x":6.42,"y":4.37},{"r":3,"c":3,"x":6.67,"y":3.6},{"r":3,"c":3,"x":6.91,"y":5.33},{"r":3,"c":3,"x":7.16,"y":4.75},{"r":3,"c":3,"x":7.41,"y":3.98},{"r":3,"c":3,"x":7.65,"y":4.37},{"r":3,"c":3,"x":7.9,"y":3.6},{"r":3,"c":3,"x":8.15,"y":2.45},{"r":3,"c":3,"x":8.4,"y":1.49},{"r":3,"c":3,"x":8.64,"y":1.2},{"r":3,"c":3,"x":9.14,"y":1.0},{"r":3,"c":3,"x":9.63,"y":1.0},{"r":3,"c":3,"x":9.88,"y":0},{"r":3,"c":3,"x":10.2,"y":1},{"r":3,"c":3,"x":10.5,"y":0},{"r":3,"c":3,"x":10.8,"y":1},{"r":3,"c":3,"x":11.1,"y":0},{"r":3,"c":3,"x":11.4,"y":1},{"r":3,"c":3,"x":11.7,"y":0},{"r":3,"c":3,"x":12.0,"y":1},{"r":3,"c":3,"x":12.5,"y":1},{"r":3,"c":3,"x":12.7,"y":0},{"r":3,"c":3,"x":13.0,"y":1},{"r":3,"c":3,"x":13.3,"y":0},{"r":3,"c":3,"x":13.6,"y":1},{"r":3,"c":3,"x":13.9,"y":0},{"r":3,"c":3,"x":14.2,"y":1},{"r":3,"c":3,"x":14.5,"y":0},{"r":3,"c":3,"x":14.8,"y":1},{"r":3,"c":3,"x":15.4,"y":1},{"r":3,"c":3,"x":15.6,"y":0},{"r":3,"c":3,"x":15.9,"y":1},{"r":3,"c":3,"x":16.2,"y":0},{"r":3,"c":3,"x":16.5,"y":1},{"r":3,"c":3,"x":16.8,"y":0},{"r":3,"c":3,"x":17.1,"y":1},{"r":3,"c":3,"x":17.4,"y":0},{"r":3,"c":3,"x":17.7,"y":1},{"r":3,"c":3,"x":18.0,"y":0},{"r":3,"c":3,"x":18.3,"y":1},{"r":3,"c":3,"x":18.6,"y":0},{"r":3,"c":3,"x":18.9,"y":1},{"r":3,"c":3,"x":19.2,"y":0},{"r":3,"c":3,"x":19.5,"y":1},{"r":3,"c":3,"x":19.8,"y":0},{"r":3,"c":3,"x":20.1,"y":1},{"r":3,"c":3,"x":20.4,"y":0},{"r":3,"c":3,"x":20.7,"y":1},{"r":3,"c":3,"x":21.0,"y":0},{"r":3,"c":3,"x":21.3,"y":1},{"r":3,"c":3,"x":21.6,"y":0},{"r":3,"c":3,"x":21.9,"y":1},{"r":3,"c":3,"x":22.2,"y":0},{"r":3,"c":3,"x":22.5,"y":1},{"r":3,"c":3,"x":22.8,"y":0},{"r":3,"c":3,"x":23.1,"y":1},{"r":3,"c":3,"x":23.4,"y":0},{"r":3,"c":3,"x":23.7,"y":1},{"r":3,"c":3,"x":24.0,"y":0},{"r":3,"c":3,"x":24.3,"y":1},{"r":3,"c":3,"x":24.6,"y":0},{"r":3,"c":3,"x":24.9,"y":1},{"r":3,"c":3,"x":25.2,"y":0},{"r":3,"c":3,"x":25.5,"y":1},{"r":3,"c":3,"x":25.8,"y":0},{"r":3,"c":3,"x":26.1,"y":1},{"r":3,"c":3,"x":26.4,"y":0},{"r":3,"c":3,"x":26.7,"y":1},{"r":3,"c":3,"x":27.0,"y":0},{"r":3,"c":3,"x":27.3,"y":1},{"r":3,"c":3,"x":27.6,"y":0},{"r":3,"c":3,"x":27.9,"y":1},{"r":3,"c":3,"x":28.2,"y":0},{"r":3,"c":3,"x":28.5,"y":1},{"r":3,"c":3,"x":28.8,"y":0},{"r":3,"c":3,"x":29.1,"y":1},{"r":3,"c":3,"x":29.4,"y":0},{"r":3,"c":3,"x":29.7,"y":1},{"r":3,"c":3,"x":30.0,"y":0},{"r":3,"c":3,"x":30.3,"y":1},{"r":3,"c":3,"x":30.6,"y":0},{"r":3,"c":3,"x":30.9,"y":1},{"r":3,"c":3,"x":31.2,"y":0},{"r":3,"c":3,"x":31.5,"y":1},{"r":3,"c":3,"x":31.8,"y":0},{"r":3,"c":3,"x":32.1,"y":1},{"r":3,"c":3,"x":32.4,"y":0},{"r":3,"c":3,"x":32.84,"y":1.0},{"r":3,"c":3,"x":33.09,"y":1.6},{"r":3,"c":3,"x":33.6,"y":1.6},{"r":3,"c":3,"x":33.8,"y":1.2},{"r":3,"c":3,"x":34.0,"y":1.6},{"r":3,"c":3,"x":34.8,"y":1.6},{"r":3,"c":3,"x":35.0,"y":1.2},{"r":3,"c":3,"x":35.2,"y":1.6},{"r":3,"c":3,"x":36.17,"y":1.6},{"r":3,"c":3,"x":36.3,"y":1.0},{"r":3,"c":3,"x":36.6,"y":0},{"r":3,"c":3,"x":36.9,"y":1},{"r":3,"c":3,"x":37.2,"y":0},{"r":3,"c":3,"x":37.5,"y":1},{"r":3,"c":3,"x":37.8,"y":0},{"r":3,"c":3,"x":38.1,"y":1},{"r":3,"c":3,"x":38.4,"y":0},{"r":3,"c":3,"x":38.7,"y":1},{"r":3,"c":3,"x":39.0,"y":0},{"r":3,"c":3,"x":39.3,"y":1},{"r":3,"c":3,"x":39.6,"y":0},{"r":3,"c":3,"x":39.9,"y":1},{"r":3,"c":3,"x":40.2,"y":0},{"r":3,"c":3,"x":40.5,"y":1},{"r":3,"c":3,"x":40.8,"y":0},{"r":3,"c":3,"x":41.1,"y":1},{"r":3,"c":3,"x":41.4,"y":0},{"r":3,"c":3,"x":41.7,"y":1},{"r":3,"c":3,"x":42.0,"y":0},{"r":3,"c":3,"x":42.3,"y":1},{"r":3,"c":3,"x":42.6,"y":0},{"r":3,"c":3,"x":42.9,"y":1},{"r":3,"c":3,"x":43.2,"y":0},{"r":3,"c":3,"x":43.5,"y":1},{"r":3,"c":3,"x":43.8,"y":0},{"r":3,"c":3,"x":44.1,"y":1},{"r":3,"c":3,"x":44.4,"y":0},{"r":3,"c":3,"x":44.7,"y":1},{"r":3,"c":3,"x":45.0,"y":0},{"r":3,"c":3,"x":45.3,"y":1},{"r":3,"c":3,"x":45.6,"y":0},{"r":3,"c":3,"x":45.9,"y":1},{"r":3,"c":3,"x":46.2,"y":0},{"r":3,"c":3,"x":46.5,"y":1},{"r":3,"c":3,"x":46.8,"y":0},{"r":3,"c":3,"x":47.1,"y":1},{"r":3,"c":3,"x":47.4,"y":0},{"r":3,"c":3,"x":47.7,"y":1},{"r":3,"c":3,"x":48.0,"y":0},{"r":3,"c":3,"x":48.3,"y":1},{"r":3,"c":3,"x":48.6,"y":0},{"r":3,"c":3,"x":48.9,"y":1},{"r":3,"c":3,"x":49.2,"y":0},{"r":3,"c":3,"x":49.5,"y":1},{"r":3,"c":3,"x":49.8,"y":0},{"r":3,"c":3,"x":50,"y":1}
]},
"facet":{
 "row":{"field":"r","type":"ordinal","header":{"labels":false,"title":"Bits of security","titleFontSize":17,"titleFontWeight":"normal","titleColor":"black","titleFont":"DejaVu Sans","titlePadding":-12}},
 "column":{"field":"c","type":"ordinal","header":{"labels":false,"title":"# of subtraces (millions)","titleOrient":"bottom","titleFontSize":17,"titleFontWeight":"normal","titleColor":"black","titleFont":"DejaVu Sans","titlePadding":-4}}
},
"spacing":0,
"spec":{
 "width":147,"height":142,
 "layer":[
  {"mark":{"type":"line","color":"#0000ff","strokeWidth":1.6,"clip":true},
   "encoding":{
    "x":{"field":"x","type":"quantitative","scale":{"domain":[-2.5,52.5],"nice":false,"zero":false},"axis":{"values":[0,15,30,45],"title":null}},
    "y":{"field":"y","type":"quantitative","scale":{"domain":[-0.8,15.5],"nice":false,"zero":false},"axis":{"values":[0,3,6,9,12,15],"title":null}}
   }},
  {"transform":[{"aggregate":[{"op":"count","as":"n"}],"groupby":["r","c"]},{"calculate":"datum.r + ', ' + datum.c","as":"sub"}],
   "layer":[
    {"mark":{"type":"rect","fill":"white","fillOpacity":0.8,"stroke":"#d0d0d0","strokeWidth":1,"cornerRadius":3},
     "encoding":{"x":{"datum":20.3,"axis":{"values":[0,15,30,45],"title":null}},"x2":{"datum":49.9},"y":{"datum":14.73,"axis":{"values":[0,3,6,9,12,15],"title":null}},"y2":{"datum":11.68}}},
    {"mark":{"type":"rule","color":"#0000ff","strokeWidth":1.6},
     "encoding":{"x":{"datum":21.56,"axis":{"values":[0,15,30,45],"title":null}},"x2":{"datum":33.68},"y":{"datum":13.3,"axis":{"values":[0,3,6,9,12,15],"title":null}}}},
    {"mark":{"type":"text","text":"K","font":"DejaVu Sans","fontStyle":"italic","fontSize":14,"align":"left","baseline":"alphabetic","color":"black"},
     "encoding":{"x":{"datum":37.2,"axis":{"values":[0,15,30,45],"title":null}},"y":{"datum":12.7,"axis":{"values":[0,3,6,9,12,15],"title":null}}}},
    {"mark":{"type":"text","font":"DejaVu Sans","fontSize":10,"align":"left","baseline":"alphabetic","color":"black"},
     "encoding":{"x":{"datum":41.3,"axis":{"values":[0,15,30,45],"title":null}},"y":{"datum":12.45,"axis":{"values":[0,3,6,9,12,15],"title":null}},"text":{"field":"sub"}}}
   ]}
 ]
},
"config":{
 "font":"DejaVu Sans",
 "view":{"stroke":"black","strokeWidth":1},
 "axis":{"labelFontSize":12,"labelColor":"black","tickColor":"black","tickSize":5,"domain":false,"grid":false,"labelPadding":3,"labelFont":"DejaVu Sans","labelOverlap":false}
}
}
